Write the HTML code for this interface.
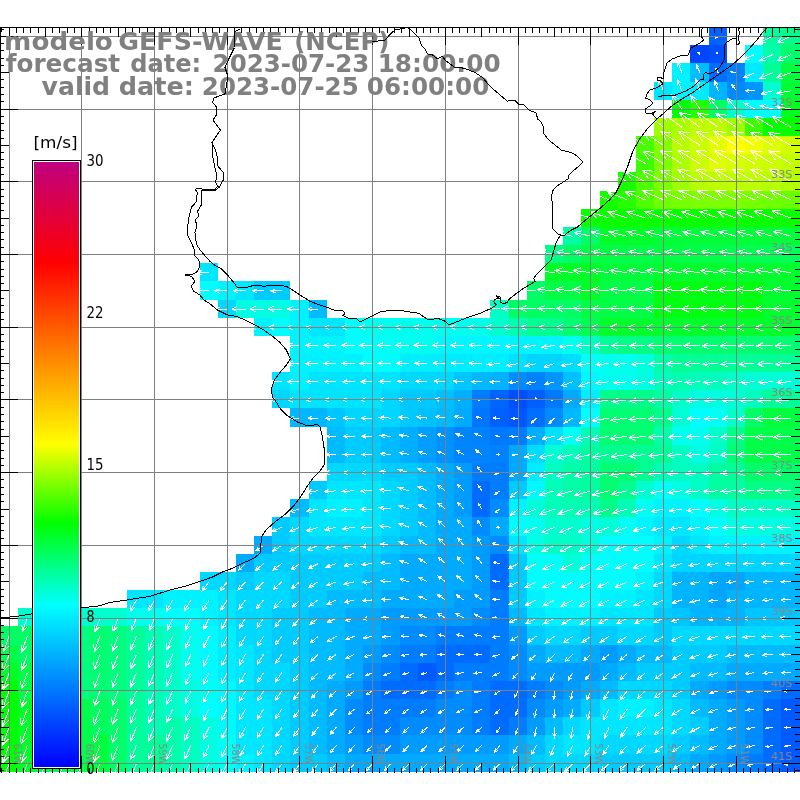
<!DOCTYPE html>
<html><head><meta charset="utf-8"><title>modelo GEFS-WAVE (NCEP)</title>
<style>html,body{margin:0;padding:0;background:#fff}svg{display:block}text{font-family:"DejaVu Sans","Liberation Sans",sans-serif}</style></head><body>
<svg width="800" height="800" viewBox="0 0 800 800">
<defs><linearGradient id="cb" x1="0" y1="1" x2="0" y2="0"><stop offset="0.0000" stop-color="#0000ff"/><stop offset="0.2680" stop-color="#00ffff"/><stop offset="0.4033" stop-color="#00ff00"/><stop offset="0.5333" stop-color="#ffff00"/><stop offset="0.8333" stop-color="#ff0000"/><stop offset="1.0000" stop-color="#c00080"/></linearGradient></defs>
<rect width="800" height="800" fill="#fff"/>
<g shape-rendering="crispEdges">
<rect x="709" y="27" width="18" height="18" fill="#0062ff"/><rect x="763" y="27" width="18" height="18" fill="#00ffa3"/><rect x="781" y="27" width="19" height="18" fill="#00ff8a"/>
<rect x="690" y="45" width="19" height="18" fill="#0046ff"/><rect x="709" y="45" width="18" height="18" fill="#004fff"/><rect x="745" y="45" width="18" height="18" fill="#00feff"/><rect x="763" y="45" width="18" height="18" fill="#00ffaa"/><rect x="781" y="45" width="19" height="18" fill="#00ff6b"/>
<rect x="672" y="63" width="18" height="19" fill="#00f2ff"/><rect x="690" y="63" width="19" height="19" fill="#00beff"/><rect x="709" y="63" width="18" height="19" fill="#006fff"/><rect x="727" y="63" width="18" height="19" fill="#0082ff"/><rect x="745" y="63" width="18" height="19" fill="#00ebff"/><rect x="763" y="63" width="18" height="19" fill="#00ff97"/><rect x="781" y="63" width="19" height="19" fill="#00ff3f"/>
<rect x="654" y="82" width="18" height="18" fill="#00e6ff"/><rect x="672" y="82" width="18" height="18" fill="#00f2ff"/><rect x="690" y="82" width="19" height="18" fill="#00ebff"/><rect x="709" y="82" width="18" height="18" fill="#00b5ff"/><rect x="727" y="82" width="18" height="18" fill="#008cff"/><rect x="745" y="82" width="18" height="18" fill="#0095ff"/><rect x="763" y="82" width="18" height="18" fill="#00ffcf"/><rect x="781" y="82" width="19" height="18" fill="#00ff32"/>
<rect x="672" y="100" width="18" height="18" fill="#00ff06"/><rect x="690" y="100" width="19" height="18" fill="#21ff00"/><rect x="709" y="100" width="18" height="18" fill="#00ff64"/><rect x="727" y="100" width="18" height="18" fill="#00ffc9"/><rect x="745" y="100" width="36" height="18" fill="#00feff"/><rect x="781" y="100" width="19" height="18" fill="#00ff1f"/>
<rect x="654" y="118" width="18" height="18" fill="#9dff00"/><rect x="672" y="118" width="18" height="18" fill="#aaff00"/><rect x="690" y="118" width="37" height="18" fill="#beff00"/><rect x="727" y="118" width="18" height="18" fill="#9dff00"/><rect x="745" y="118" width="18" height="18" fill="#3bff00"/><rect x="763" y="118" width="37" height="18" fill="#07ff00"/>
<rect x="636" y="136" width="18" height="18" fill="#48ff00"/><rect x="654" y="136" width="18" height="18" fill="#83ff00"/><rect x="672" y="136" width="18" height="18" fill="#b7ff00"/><rect x="690" y="136" width="19" height="18" fill="#cbff00"/><rect x="709" y="136" width="18" height="18" fill="#e5ff00"/><rect x="727" y="136" width="18" height="18" fill="#ffff00"/><rect x="745" y="136" width="18" height="18" fill="#f2ff00"/><rect x="763" y="136" width="18" height="18" fill="#deff00"/><rect x="781" y="136" width="19" height="18" fill="#d1ff00"/>
<rect x="636" y="154" width="18" height="18" fill="#3bff00"/><rect x="654" y="154" width="18" height="18" fill="#7cff00"/><rect x="672" y="154" width="18" height="18" fill="#aaff00"/><rect x="690" y="154" width="19" height="18" fill="#cbff00"/><rect x="709" y="154" width="18" height="18" fill="#deff00"/><rect x="727" y="154" width="18" height="18" fill="#d8ff00"/><rect x="745" y="154" width="18" height="18" fill="#d1ff00"/><rect x="763" y="154" width="18" height="18" fill="#cbff00"/><rect x="781" y="154" width="19" height="18" fill="#c4ff00"/>
<rect x="618" y="172" width="18" height="19" fill="#1aff00"/><rect x="636" y="172" width="18" height="19" fill="#4eff00"/><rect x="654" y="172" width="18" height="19" fill="#7cff00"/><rect x="672" y="172" width="18" height="19" fill="#9dff00"/><rect x="690" y="172" width="19" height="19" fill="#b7ff00"/><rect x="709" y="172" width="54" height="19" fill="#beff00"/><rect x="763" y="172" width="18" height="19" fill="#b7ff00"/><rect x="781" y="172" width="19" height="19" fill="#b1ff00"/>
<rect x="600" y="191" width="18" height="18" fill="#14ff00"/><rect x="618" y="191" width="18" height="18" fill="#27ff00"/><rect x="636" y="191" width="18" height="18" fill="#4eff00"/><rect x="654" y="191" width="18" height="18" fill="#6fff00"/><rect x="672" y="191" width="18" height="18" fill="#76ff00"/><rect x="690" y="191" width="55" height="18" fill="#7cff00"/><rect x="745" y="191" width="18" height="18" fill="#76ff00"/><rect x="763" y="191" width="18" height="18" fill="#6fff00"/><rect x="781" y="191" width="19" height="18" fill="#69ff00"/>
<rect x="581" y="209" width="219" height="18" fill="#0aff00"/>
<rect x="563" y="227" width="18" height="18" fill="#00ffa3"/><rect x="581" y="227" width="19" height="18" fill="#00ff64"/><rect x="600" y="227" width="54" height="18" fill="#00ff26"/><rect x="654" y="227" width="146" height="18" fill="#00ff39"/>
<rect x="545" y="245" width="18" height="18" fill="#00ff84"/><rect x="563" y="245" width="18" height="18" fill="#00ff64"/><rect x="581" y="245" width="37" height="18" fill="#00ff45"/><rect x="618" y="245" width="18" height="18" fill="#00ff48"/><rect x="636" y="245" width="18" height="18" fill="#00ff4b"/><rect x="654" y="245" width="18" height="18" fill="#00ff42"/><rect x="672" y="245" width="18" height="18" fill="#00ff45"/><rect x="690" y="245" width="19" height="18" fill="#00ff48"/><rect x="709" y="245" width="18" height="18" fill="#00ff4b"/><rect x="727" y="245" width="18" height="18" fill="#00ff4f"/><rect x="745" y="245" width="18" height="18" fill="#00ff52"/><rect x="763" y="245" width="18" height="18" fill="#00ff55"/><rect x="781" y="245" width="19" height="18" fill="#00ff58"/>
<rect x="200" y="263" width="18" height="18" fill="#00e6ff"/><rect x="545" y="263" width="55" height="18" fill="#00ff26"/><rect x="600" y="263" width="54" height="18" fill="#00ff39"/><rect x="654" y="263" width="146" height="18" fill="#00ff2c"/>
<rect x="200" y="281" width="18" height="19" fill="#00feff"/><rect x="218" y="281" width="18" height="19" fill="#00f2ff"/><rect x="236" y="281" width="18" height="19" fill="#00e6ff"/><rect x="254" y="281" width="36" height="19" fill="#00cbff"/><rect x="527" y="281" width="18" height="19" fill="#00ff64"/><rect x="545" y="281" width="36" height="19" fill="#00ff45"/><rect x="581" y="281" width="19" height="19" fill="#00ff26"/><rect x="600" y="281" width="54" height="19" fill="#00ff45"/><rect x="654" y="281" width="109" height="19" fill="#00ff10"/><rect x="763" y="281" width="37" height="19" fill="#00ff2f"/>
<rect x="218" y="300" width="18" height="18" fill="#00d8ff"/><rect x="236" y="300" width="54" height="18" fill="#00ffe2"/><rect x="290" y="300" width="19" height="18" fill="#00f2ff"/><rect x="309" y="300" width="18" height="18" fill="#00bbff"/><rect x="490" y="300" width="19" height="18" fill="#00ffc3"/><rect x="509" y="300" width="72" height="18" fill="#00ff64"/><rect x="581" y="300" width="73" height="18" fill="#00ff45"/><rect x="654" y="300" width="109" height="18" fill="#00ff10"/><rect x="763" y="300" width="37" height="18" fill="#00ff2f"/>
<rect x="254" y="318" width="18" height="18" fill="#00f2ff"/><rect x="272" y="318" width="18" height="18" fill="#00feff"/><rect x="290" y="318" width="19" height="18" fill="#00f2ff"/><rect x="309" y="318" width="36" height="18" fill="#00e6ff"/><rect x="345" y="318" width="18" height="18" fill="#00fffb"/><rect x="363" y="318" width="109" height="18" fill="#00ffef"/><rect x="472" y="318" width="18" height="18" fill="#00ffe8"/><rect x="490" y="318" width="19" height="18" fill="#00ffcf"/><rect x="509" y="318" width="18" height="18" fill="#00ffb0"/><rect x="527" y="318" width="36" height="18" fill="#00ff90"/><rect x="563" y="318" width="18" height="18" fill="#00ff71"/><rect x="581" y="318" width="19" height="18" fill="#00ff52"/><rect x="600" y="318" width="200" height="18" fill="#00ff2c"/>
<rect x="290" y="336" width="55" height="18" fill="#00f4ff"/><rect x="345" y="336" width="18" height="18" fill="#00feff"/><rect x="363" y="336" width="18" height="18" fill="#00fffb"/><rect x="381" y="336" width="19" height="18" fill="#00fff5"/><rect x="400" y="336" width="36" height="18" fill="#00ffef"/><rect x="436" y="336" width="73" height="18" fill="#00f7ff"/><rect x="509" y="336" width="54" height="18" fill="#00f4ff"/><rect x="563" y="336" width="18" height="18" fill="#00ffef"/><rect x="581" y="336" width="19" height="18" fill="#00ffc3"/><rect x="600" y="336" width="18" height="18" fill="#00ff97"/><rect x="618" y="336" width="36" height="18" fill="#00ff84"/><rect x="654" y="336" width="146" height="18" fill="#00ff71"/>
<rect x="290" y="354" width="73" height="18" fill="#00f2ff"/><rect x="363" y="354" width="37" height="18" fill="#00feff"/><rect x="400" y="354" width="36" height="18" fill="#00efff"/><rect x="436" y="354" width="36" height="18" fill="#00ecff"/><rect x="472" y="354" width="37" height="18" fill="#00eeff"/><rect x="509" y="354" width="18" height="18" fill="#00e1ff"/><rect x="527" y="354" width="36" height="18" fill="#00d5ff"/><rect x="563" y="354" width="18" height="18" fill="#00deff"/><rect x="581" y="354" width="19" height="18" fill="#00fff5"/><rect x="600" y="354" width="36" height="18" fill="#00ffef"/><rect x="636" y="354" width="18" height="18" fill="#00ffdc"/><rect x="654" y="354" width="18" height="18" fill="#00ffaa"/><rect x="672" y="354" width="128" height="18" fill="#00ff97"/>
<rect x="272" y="372" width="18" height="18" fill="#00e4ff"/><rect x="290" y="372" width="19" height="18" fill="#00f1ff"/><rect x="309" y="372" width="91" height="18" fill="#00e4ff"/><rect x="400" y="372" width="54" height="18" fill="#00d9ff"/><rect x="454" y="372" width="18" height="18" fill="#00c6ff"/><rect x="472" y="372" width="18" height="18" fill="#00b8ff"/><rect x="490" y="372" width="19" height="18" fill="#00b2ff"/><rect x="509" y="372" width="18" height="18" fill="#008cff"/><rect x="527" y="372" width="18" height="18" fill="#0082ff"/><rect x="545" y="372" width="18" height="18" fill="#0095ff"/><rect x="563" y="372" width="18" height="18" fill="#00c1ff"/><rect x="581" y="372" width="19" height="18" fill="#00f7ff"/><rect x="600" y="372" width="36" height="18" fill="#00ffef"/><rect x="636" y="372" width="18" height="18" fill="#00ffe2"/><rect x="654" y="372" width="18" height="18" fill="#00ffbc"/><rect x="672" y="372" width="18" height="18" fill="#00ffb0"/><rect x="690" y="372" width="37" height="18" fill="#00ffbc"/><rect x="727" y="372" width="18" height="18" fill="#00ffc9"/><rect x="745" y="372" width="55" height="18" fill="#00ffd6"/>
<rect x="272" y="390" width="18" height="18" fill="#00d6ff"/><rect x="290" y="390" width="91" height="18" fill="#00e4ff"/><rect x="381" y="390" width="19" height="18" fill="#00d6ff"/><rect x="400" y="390" width="36" height="18" fill="#00c9ff"/><rect x="436" y="390" width="18" height="18" fill="#00c0ff"/><rect x="454" y="390" width="18" height="18" fill="#00b0ff"/><rect x="472" y="390" width="18" height="18" fill="#007cff"/><rect x="490" y="390" width="19" height="18" fill="#0065ff"/><rect x="509" y="390" width="18" height="18" fill="#004fff"/><rect x="527" y="390" width="18" height="18" fill="#005fff"/><rect x="545" y="390" width="18" height="18" fill="#0079ff"/><rect x="563" y="390" width="18" height="18" fill="#00abff"/><rect x="581" y="390" width="19" height="18" fill="#00eeff"/><rect x="600" y="390" width="54" height="18" fill="#00ff8a"/><rect x="654" y="390" width="18" height="18" fill="#00ffa3"/><rect x="672" y="390" width="18" height="18" fill="#00ffc9"/><rect x="690" y="390" width="37" height="18" fill="#00ffe2"/><rect x="727" y="390" width="18" height="18" fill="#00ffd6"/><rect x="745" y="390" width="18" height="18" fill="#00ffbc"/><rect x="763" y="390" width="37" height="18" fill="#00ff97"/>
<rect x="290" y="408" width="37" height="19" fill="#00b6ff"/><rect x="327" y="408" width="18" height="19" fill="#00c6ff"/><rect x="345" y="408" width="55" height="19" fill="#00d6ff"/><rect x="400" y="408" width="18" height="19" fill="#00c9ff"/><rect x="418" y="408" width="18" height="19" fill="#00c0ff"/><rect x="436" y="408" width="18" height="19" fill="#00baff"/><rect x="454" y="408" width="18" height="19" fill="#00aaff"/><rect x="472" y="408" width="18" height="19" fill="#0075ff"/><rect x="490" y="408" width="19" height="19" fill="#005fff"/><rect x="509" y="408" width="18" height="19" fill="#0056ff"/><rect x="527" y="408" width="18" height="19" fill="#006fff"/><rect x="545" y="408" width="18" height="19" fill="#008cff"/><rect x="563" y="408" width="18" height="19" fill="#00b8ff"/><rect x="581" y="408" width="19" height="19" fill="#00feff"/><rect x="600" y="408" width="54" height="19" fill="#00ff71"/><rect x="654" y="408" width="18" height="19" fill="#00ff8a"/><rect x="672" y="408" width="18" height="19" fill="#00ffd6"/><rect x="690" y="408" width="19" height="19" fill="#00feff"/><rect x="709" y="408" width="18" height="19" fill="#00fff5"/><rect x="727" y="408" width="18" height="19" fill="#00ffc9"/><rect x="745" y="408" width="18" height="19" fill="#00ff64"/><rect x="763" y="408" width="37" height="19" fill="#00ff3f"/>
<rect x="327" y="427" width="18" height="18" fill="#00bbff"/><rect x="345" y="427" width="36" height="18" fill="#00cbff"/><rect x="381" y="427" width="19" height="18" fill="#00bbff"/><rect x="400" y="427" width="18" height="18" fill="#00aeff"/><rect x="418" y="427" width="18" height="18" fill="#009fff"/><rect x="436" y="427" width="18" height="18" fill="#0092ff"/><rect x="454" y="427" width="18" height="18" fill="#0085ff"/><rect x="472" y="427" width="18" height="18" fill="#0082ff"/><rect x="490" y="427" width="19" height="18" fill="#0079ff"/><rect x="509" y="427" width="18" height="18" fill="#007cff"/><rect x="527" y="427" width="18" height="18" fill="#00aeff"/><rect x="545" y="427" width="18" height="18" fill="#00e1ff"/><rect x="563" y="427" width="18" height="18" fill="#00fff5"/><rect x="581" y="427" width="19" height="18" fill="#00ffb6"/><rect x="600" y="427" width="54" height="18" fill="#00ff71"/><rect x="654" y="427" width="18" height="18" fill="#00ffaa"/><rect x="672" y="427" width="37" height="18" fill="#00ffef"/><rect x="709" y="427" width="18" height="18" fill="#00ffc9"/><rect x="727" y="427" width="18" height="18" fill="#00ff84"/><rect x="745" y="427" width="55" height="18" fill="#00ff48"/>
<rect x="327" y="445" width="18" height="18" fill="#00bbff"/><rect x="345" y="445" width="36" height="18" fill="#00cbff"/><rect x="381" y="445" width="19" height="18" fill="#00bbff"/><rect x="400" y="445" width="18" height="18" fill="#00aeff"/><rect x="418" y="445" width="18" height="18" fill="#009fff"/><rect x="436" y="445" width="18" height="18" fill="#0092ff"/><rect x="454" y="445" width="36" height="18" fill="#0085ff"/><rect x="490" y="445" width="19" height="18" fill="#0082ff"/><rect x="509" y="445" width="18" height="18" fill="#00a8ff"/><rect x="527" y="445" width="18" height="18" fill="#00dcff"/><rect x="545" y="445" width="18" height="18" fill="#00ffd2"/><rect x="563" y="445" width="18" height="18" fill="#00ffb9"/><rect x="581" y="445" width="19" height="18" fill="#00ffa0"/><rect x="600" y="445" width="54" height="18" fill="#00ff90"/><rect x="654" y="445" width="18" height="18" fill="#00ff97"/><rect x="672" y="445" width="18" height="18" fill="#00ffc3"/><rect x="690" y="445" width="19" height="18" fill="#00ffe2"/><rect x="709" y="445" width="18" height="18" fill="#00ffc3"/><rect x="727" y="445" width="18" height="18" fill="#00ff77"/><rect x="745" y="445" width="55" height="18" fill="#00ff48"/>
<rect x="327" y="463" width="54" height="18" fill="#00d8ff"/><rect x="381" y="463" width="37" height="18" fill="#00cbff"/><rect x="418" y="463" width="18" height="18" fill="#00bbff"/><rect x="436" y="463" width="18" height="18" fill="#00abff"/><rect x="454" y="463" width="18" height="18" fill="#009bff"/><rect x="472" y="463" width="37" height="18" fill="#007cff"/><rect x="509" y="463" width="18" height="18" fill="#00abff"/><rect x="527" y="463" width="18" height="18" fill="#00ecff"/><rect x="545" y="463" width="18" height="18" fill="#00ffc0"/><rect x="563" y="463" width="18" height="18" fill="#00ffa6"/><rect x="581" y="463" width="19" height="18" fill="#00ffa0"/><rect x="600" y="463" width="36" height="18" fill="#00ff71"/><rect x="636" y="463" width="18" height="18" fill="#00ff90"/><rect x="654" y="463" width="18" height="18" fill="#00ffb6"/><rect x="672" y="463" width="37" height="18" fill="#00ffc3"/><rect x="709" y="463" width="18" height="18" fill="#00ffa3"/><rect x="727" y="463" width="18" height="18" fill="#00ff97"/><rect x="745" y="463" width="55" height="18" fill="#00ff68"/>
<rect x="309" y="481" width="18" height="18" fill="#00cbff"/><rect x="327" y="481" width="54" height="18" fill="#00e6ff"/><rect x="381" y="481" width="19" height="18" fill="#00d8ff"/><rect x="400" y="481" width="18" height="18" fill="#00cbff"/><rect x="418" y="481" width="18" height="18" fill="#00bbff"/><rect x="436" y="481" width="18" height="18" fill="#00abff"/><rect x="454" y="481" width="18" height="18" fill="#009bff"/><rect x="472" y="481" width="18" height="18" fill="#006cff"/><rect x="490" y="481" width="19" height="18" fill="#007cff"/><rect x="509" y="481" width="18" height="18" fill="#00cbff"/><rect x="527" y="481" width="18" height="18" fill="#00f9ff"/><rect x="545" y="481" width="18" height="18" fill="#00ffb9"/><rect x="563" y="481" width="18" height="18" fill="#00ffa6"/><rect x="581" y="481" width="19" height="18" fill="#00ffa0"/><rect x="600" y="481" width="18" height="18" fill="#00ff71"/><rect x="618" y="481" width="18" height="18" fill="#00ff90"/><rect x="636" y="481" width="18" height="18" fill="#00ffcf"/><rect x="654" y="481" width="18" height="18" fill="#00fff5"/><rect x="672" y="481" width="18" height="18" fill="#00ffe2"/><rect x="690" y="481" width="19" height="18" fill="#00ffc3"/><rect x="709" y="481" width="36" height="18" fill="#00ffa3"/><rect x="745" y="481" width="55" height="18" fill="#00ff84"/>
<rect x="290" y="499" width="19" height="18" fill="#00bbff"/><rect x="309" y="499" width="18" height="18" fill="#00e6ff"/><rect x="327" y="499" width="36" height="18" fill="#00f2ff"/><rect x="363" y="499" width="18" height="18" fill="#00e6ff"/><rect x="381" y="499" width="19" height="18" fill="#00d8ff"/><rect x="400" y="499" width="18" height="18" fill="#00cbff"/><rect x="418" y="499" width="18" height="18" fill="#00bbff"/><rect x="436" y="499" width="18" height="18" fill="#00abff"/><rect x="454" y="499" width="18" height="18" fill="#009bff"/><rect x="472" y="499" width="18" height="18" fill="#006cff"/><rect x="490" y="499" width="19" height="18" fill="#008cff"/><rect x="509" y="499" width="18" height="18" fill="#00f2ff"/><rect x="527" y="499" width="18" height="18" fill="#00ffd9"/><rect x="545" y="499" width="18" height="18" fill="#00ffb9"/><rect x="563" y="499" width="37" height="18" fill="#00ffb3"/><rect x="600" y="499" width="18" height="18" fill="#00ff8a"/><rect x="618" y="499" width="18" height="18" fill="#00ffb6"/><rect x="636" y="499" width="18" height="18" fill="#00fff5"/><rect x="654" y="499" width="18" height="18" fill="#00f4ff"/><rect x="672" y="499" width="18" height="18" fill="#00f2ff"/><rect x="690" y="499" width="19" height="18" fill="#00feff"/><rect x="709" y="499" width="18" height="18" fill="#00ffe2"/><rect x="727" y="499" width="73" height="18" fill="#00ffc3"/>
<rect x="272" y="517" width="18" height="19" fill="#00cbff"/><rect x="290" y="517" width="19" height="19" fill="#00d8ff"/><rect x="309" y="517" width="72" height="19" fill="#00e6ff"/><rect x="381" y="517" width="19" height="19" fill="#00d8ff"/><rect x="400" y="517" width="18" height="19" fill="#00cbff"/><rect x="418" y="517" width="18" height="19" fill="#00bbff"/><rect x="436" y="517" width="36" height="19" fill="#00abff"/><rect x="472" y="517" width="18" height="19" fill="#008cff"/><rect x="490" y="517" width="19" height="19" fill="#00abff"/><rect x="509" y="517" width="18" height="19" fill="#00feff"/><rect x="527" y="517" width="18" height="19" fill="#00ffef"/><rect x="545" y="517" width="36" height="19" fill="#00ffcf"/><rect x="581" y="517" width="19" height="19" fill="#00ffe2"/><rect x="600" y="517" width="18" height="19" fill="#00ffd6"/><rect x="618" y="517" width="18" height="19" fill="#00fff5"/><rect x="636" y="517" width="18" height="19" fill="#00f4ff"/><rect x="654" y="517" width="18" height="19" fill="#00e8ff"/><rect x="672" y="517" width="18" height="19" fill="#00e6ff"/><rect x="690" y="517" width="19" height="19" fill="#00f2ff"/><rect x="709" y="517" width="18" height="19" fill="#00feff"/><rect x="727" y="517" width="73" height="19" fill="#00ffe2"/>
<rect x="254" y="536" width="18" height="18" fill="#00abff"/><rect x="272" y="536" width="18" height="18" fill="#00cbff"/><rect x="290" y="536" width="91" height="18" fill="#00d8ff"/><rect x="381" y="536" width="19" height="18" fill="#00cbff"/><rect x="400" y="536" width="36" height="18" fill="#00bbff"/><rect x="436" y="536" width="36" height="18" fill="#00abff"/><rect x="472" y="536" width="18" height="18" fill="#009bff"/><rect x="490" y="536" width="19" height="18" fill="#008cff"/><rect x="509" y="536" width="18" height="18" fill="#00e6ff"/><rect x="527" y="536" width="18" height="18" fill="#00ffe5"/><rect x="545" y="536" width="36" height="18" fill="#00ffc6"/><rect x="581" y="536" width="19" height="18" fill="#00ffd9"/><rect x="600" y="536" width="54" height="18" fill="#00feff"/><rect x="654" y="536" width="18" height="18" fill="#00f2ff"/><rect x="672" y="536" width="18" height="18" fill="#00d8ff"/><rect x="690" y="536" width="19" height="18" fill="#00e6ff"/><rect x="709" y="536" width="91" height="18" fill="#00f2ff"/>
<rect x="236" y="554" width="18" height="18" fill="#00abff"/><rect x="254" y="554" width="127" height="18" fill="#00cbff"/><rect x="381" y="554" width="19" height="18" fill="#00bbff"/><rect x="400" y="554" width="72" height="18" fill="#00abff"/><rect x="472" y="554" width="18" height="18" fill="#009bff"/><rect x="490" y="554" width="19" height="18" fill="#006cff"/><rect x="509" y="554" width="18" height="18" fill="#00cbff"/><rect x="527" y="554" width="36" height="18" fill="#00fff8"/><rect x="563" y="554" width="18" height="18" fill="#00ffd9"/><rect x="581" y="554" width="19" height="18" fill="#00fff8"/><rect x="600" y="554" width="54" height="18" fill="#00feff"/><rect x="654" y="554" width="18" height="18" fill="#00e6ff"/><rect x="672" y="554" width="128" height="18" fill="#00d5ff"/>
<rect x="200" y="572" width="36" height="18" fill="#00d8ff"/><rect x="236" y="572" width="18" height="18" fill="#00cbff"/><rect x="254" y="572" width="36" height="18" fill="#00d8ff"/><rect x="290" y="572" width="73" height="18" fill="#00cbff"/><rect x="363" y="572" width="37" height="18" fill="#00bbff"/><rect x="400" y="572" width="72" height="18" fill="#00abff"/><rect x="472" y="572" width="18" height="18" fill="#009bff"/><rect x="490" y="572" width="19" height="18" fill="#006cff"/><rect x="509" y="572" width="18" height="18" fill="#00cbff"/><rect x="527" y="572" width="109" height="18" fill="#00feff"/><rect x="636" y="572" width="18" height="18" fill="#00f2ff"/><rect x="654" y="572" width="18" height="18" fill="#00d8ff"/><rect x="672" y="572" width="37" height="18" fill="#00b5ff"/><rect x="709" y="572" width="36" height="18" fill="#00a5ff"/><rect x="745" y="572" width="55" height="18" fill="#00b5ff"/>
<rect x="127" y="590" width="36" height="18" fill="#00e6ff"/><rect x="163" y="590" width="55" height="18" fill="#00f2ff"/><rect x="218" y="590" width="18" height="18" fill="#00e6ff"/><rect x="236" y="590" width="54" height="18" fill="#00d8ff"/><rect x="290" y="590" width="37" height="18" fill="#00cbff"/><rect x="327" y="590" width="54" height="18" fill="#00bbff"/><rect x="381" y="590" width="73" height="18" fill="#00abff"/><rect x="454" y="590" width="36" height="18" fill="#009bff"/><rect x="490" y="590" width="19" height="18" fill="#007cff"/><rect x="509" y="590" width="18" height="18" fill="#00cbff"/><rect x="527" y="590" width="18" height="18" fill="#00f2ff"/><rect x="545" y="590" width="55" height="18" fill="#00feff"/><rect x="600" y="590" width="36" height="18" fill="#00f2ff"/><rect x="636" y="590" width="18" height="18" fill="#00e6ff"/><rect x="654" y="590" width="18" height="18" fill="#00d8ff"/><rect x="672" y="590" width="37" height="18" fill="#00b5ff"/><rect x="709" y="590" width="18" height="18" fill="#00a5ff"/><rect x="727" y="590" width="73" height="18" fill="#00b5ff"/>
<rect x="18" y="608" width="109" height="18" fill="#00ffcf"/><rect x="127" y="608" width="36" height="18" fill="#00ffef"/><rect x="163" y="608" width="37" height="18" fill="#00feff"/><rect x="200" y="608" width="18" height="18" fill="#00f2ff"/><rect x="218" y="608" width="18" height="18" fill="#00e6ff"/><rect x="236" y="608" width="36" height="18" fill="#00d8ff"/><rect x="272" y="608" width="37" height="18" fill="#00cbff"/><rect x="309" y="608" width="36" height="18" fill="#00bbff"/><rect x="345" y="608" width="36" height="18" fill="#00abff"/><rect x="381" y="608" width="91" height="18" fill="#009bff"/><rect x="472" y="608" width="18" height="18" fill="#008cff"/><rect x="490" y="608" width="19" height="18" fill="#007cff"/><rect x="509" y="608" width="18" height="18" fill="#00bbff"/><rect x="527" y="608" width="18" height="18" fill="#00e6ff"/><rect x="545" y="608" width="55" height="18" fill="#00f2ff"/><rect x="600" y="608" width="54" height="18" fill="#00e6ff"/><rect x="654" y="608" width="18" height="18" fill="#00cbff"/><rect x="672" y="608" width="18" height="18" fill="#00c5ff"/><rect x="690" y="608" width="55" height="18" fill="#00b5ff"/><rect x="745" y="608" width="55" height="18" fill="#00c5ff"/>
<rect x="0" y="626" width="36" height="19" fill="#00ff64"/><rect x="36" y="626" width="54" height="19" fill="#00ff7e"/><rect x="90" y="626" width="19" height="19" fill="#00ff71"/><rect x="109" y="626" width="18" height="19" fill="#00ff7e"/><rect x="127" y="626" width="18" height="19" fill="#00ff9a"/><rect x="145" y="626" width="18" height="19" fill="#00ffb6"/><rect x="163" y="626" width="18" height="19" fill="#00ffc9"/><rect x="181" y="626" width="19" height="19" fill="#00ffef"/><rect x="200" y="626" width="18" height="19" fill="#00faff"/><rect x="218" y="626" width="18" height="19" fill="#00ecff"/><rect x="236" y="626" width="36" height="19" fill="#00d8ff"/><rect x="272" y="626" width="37" height="19" fill="#00cbff"/><rect x="309" y="626" width="36" height="19" fill="#00bbff"/><rect x="345" y="626" width="36" height="19" fill="#00abff"/><rect x="381" y="626" width="19" height="19" fill="#009bff"/><rect x="400" y="626" width="36" height="19" fill="#008cff"/><rect x="436" y="626" width="73" height="19" fill="#007cff"/><rect x="509" y="626" width="18" height="19" fill="#009bff"/><rect x="527" y="626" width="18" height="19" fill="#00cbff"/><rect x="545" y="626" width="36" height="19" fill="#00d8ff"/><rect x="581" y="626" width="37" height="19" fill="#00cbff"/><rect x="618" y="626" width="36" height="19" fill="#00d8ff"/><rect x="654" y="626" width="18" height="19" fill="#00cbff"/><rect x="672" y="626" width="128" height="19" fill="#00d8ff"/>
<rect x="0" y="645" width="18" height="18" fill="#00ff45"/><rect x="18" y="645" width="18" height="18" fill="#00ff64"/><rect x="36" y="645" width="54" height="18" fill="#00ff7e"/><rect x="90" y="645" width="19" height="18" fill="#00ff71"/><rect x="109" y="645" width="18" height="18" fill="#00ff7e"/><rect x="127" y="645" width="18" height="18" fill="#00ff9a"/><rect x="145" y="645" width="18" height="18" fill="#00ffb6"/><rect x="163" y="645" width="18" height="18" fill="#00ffc9"/><rect x="181" y="645" width="19" height="18" fill="#00ffef"/><rect x="200" y="645" width="18" height="18" fill="#00faff"/><rect x="218" y="645" width="18" height="18" fill="#00ecff"/><rect x="236" y="645" width="18" height="18" fill="#00e6ff"/><rect x="254" y="645" width="18" height="18" fill="#00d8ff"/><rect x="272" y="645" width="37" height="18" fill="#00cbff"/><rect x="309" y="645" width="36" height="18" fill="#00bbff"/><rect x="345" y="645" width="18" height="18" fill="#00abff"/><rect x="363" y="645" width="18" height="18" fill="#009bff"/><rect x="381" y="645" width="19" height="18" fill="#008cff"/><rect x="400" y="645" width="36" height="18" fill="#007cff"/><rect x="436" y="645" width="54" height="18" fill="#006cff"/><rect x="490" y="645" width="19" height="18" fill="#007cff"/><rect x="509" y="645" width="18" height="18" fill="#008cff"/><rect x="527" y="645" width="18" height="18" fill="#00abff"/><rect x="545" y="645" width="36" height="18" fill="#00bbff"/><rect x="581" y="645" width="19" height="18" fill="#00abff"/><rect x="600" y="645" width="18" height="18" fill="#009bff"/><rect x="618" y="645" width="18" height="18" fill="#00abff"/><rect x="636" y="645" width="36" height="18" fill="#00bbff"/><rect x="672" y="645" width="55" height="18" fill="#00cbff"/><rect x="727" y="645" width="73" height="18" fill="#00bbff"/>
<rect x="0" y="663" width="18" height="18" fill="#00ff26"/><rect x="18" y="663" width="18" height="18" fill="#00ff45"/><rect x="36" y="663" width="54" height="18" fill="#00ff7e"/><rect x="90" y="663" width="19" height="18" fill="#00ff71"/><rect x="109" y="663" width="18" height="18" fill="#00ff7e"/><rect x="127" y="663" width="18" height="18" fill="#00ff9a"/><rect x="145" y="663" width="18" height="18" fill="#00ffb6"/><rect x="163" y="663" width="18" height="18" fill="#00ffc9"/><rect x="181" y="663" width="19" height="18" fill="#00ffef"/><rect x="200" y="663" width="18" height="18" fill="#00faff"/><rect x="218" y="663" width="18" height="18" fill="#00ecff"/><rect x="236" y="663" width="18" height="18" fill="#00e6ff"/><rect x="254" y="663" width="36" height="18" fill="#00d8ff"/><rect x="290" y="663" width="19" height="18" fill="#00cbff"/><rect x="309" y="663" width="36" height="18" fill="#00bbff"/><rect x="345" y="663" width="18" height="18" fill="#00abff"/><rect x="363" y="663" width="18" height="18" fill="#008cff"/><rect x="381" y="663" width="19" height="18" fill="#007cff"/><rect x="400" y="663" width="18" height="18" fill="#006cff"/><rect x="418" y="663" width="18" height="18" fill="#005aff"/><rect x="436" y="663" width="18" height="18" fill="#006cff"/><rect x="454" y="663" width="55" height="18" fill="#007cff"/><rect x="509" y="663" width="18" height="18" fill="#008cff"/><rect x="527" y="663" width="73" height="18" fill="#009bff"/><rect x="600" y="663" width="18" height="18" fill="#00abff"/><rect x="618" y="663" width="18" height="18" fill="#00bbff"/><rect x="636" y="663" width="54" height="18" fill="#00cbff"/><rect x="690" y="663" width="37" height="18" fill="#00bbff"/><rect x="727" y="663" width="73" height="18" fill="#00abff"/>
<rect x="0" y="681" width="18" height="18" fill="#00ff06"/><rect x="18" y="681" width="18" height="18" fill="#00ff45"/><rect x="36" y="681" width="54" height="18" fill="#00ff7e"/><rect x="90" y="681" width="19" height="18" fill="#00ff71"/><rect x="109" y="681" width="18" height="18" fill="#00ff7e"/><rect x="127" y="681" width="18" height="18" fill="#00ff9a"/><rect x="145" y="681" width="18" height="18" fill="#00ffb6"/><rect x="163" y="681" width="18" height="18" fill="#00ffc9"/><rect x="181" y="681" width="19" height="18" fill="#00ffe2"/><rect x="200" y="681" width="18" height="18" fill="#00fff2"/><rect x="218" y="681" width="18" height="18" fill="#00f8ff"/><rect x="236" y="681" width="18" height="18" fill="#00e6ff"/><rect x="254" y="681" width="36" height="18" fill="#00d8ff"/><rect x="290" y="681" width="19" height="18" fill="#00cbff"/><rect x="309" y="681" width="18" height="18" fill="#00bbff"/><rect x="327" y="681" width="18" height="18" fill="#00abff"/><rect x="345" y="681" width="18" height="18" fill="#009bff"/><rect x="363" y="681" width="18" height="18" fill="#007cff"/><rect x="381" y="681" width="55" height="18" fill="#006cff"/><rect x="436" y="681" width="18" height="18" fill="#007cff"/><rect x="454" y="681" width="18" height="18" fill="#008cff"/><rect x="472" y="681" width="18" height="18" fill="#007cff"/><rect x="490" y="681" width="37" height="18" fill="#006cff"/><rect x="527" y="681" width="18" height="18" fill="#007cff"/><rect x="545" y="681" width="18" height="18" fill="#008cff"/><rect x="563" y="681" width="18" height="18" fill="#009bff"/><rect x="581" y="681" width="19" height="18" fill="#00abff"/><rect x="600" y="681" width="18" height="18" fill="#00bbff"/><rect x="618" y="681" width="54" height="18" fill="#00d8ff"/><rect x="672" y="681" width="18" height="18" fill="#00cbff"/><rect x="690" y="681" width="19" height="18" fill="#00abff"/><rect x="709" y="681" width="18" height="18" fill="#009bff"/><rect x="727" y="681" width="36" height="18" fill="#008cff"/><rect x="763" y="681" width="18" height="18" fill="#007cff"/><rect x="781" y="681" width="19" height="18" fill="#006cff"/>
<rect x="0" y="699" width="18" height="18" fill="#00ff06"/><rect x="18" y="699" width="18" height="18" fill="#00ff26"/><rect x="36" y="699" width="54" height="18" fill="#00ff4b"/><rect x="90" y="699" width="19" height="18" fill="#00ff5e"/><rect x="109" y="699" width="18" height="18" fill="#00ff6b"/><rect x="127" y="699" width="18" height="18" fill="#00ff9a"/><rect x="145" y="699" width="18" height="18" fill="#00ffb6"/><rect x="163" y="699" width="18" height="18" fill="#00ffc9"/><rect x="181" y="699" width="19" height="18" fill="#00ffe2"/><rect x="200" y="699" width="18" height="18" fill="#00feff"/><rect x="218" y="699" width="18" height="18" fill="#00f8ff"/><rect x="236" y="699" width="36" height="18" fill="#00e6ff"/><rect x="272" y="699" width="18" height="18" fill="#00d8ff"/><rect x="290" y="699" width="19" height="18" fill="#00cbff"/><rect x="309" y="699" width="18" height="18" fill="#00bbff"/><rect x="327" y="699" width="18" height="18" fill="#00abff"/><rect x="345" y="699" width="18" height="18" fill="#008cff"/><rect x="363" y="699" width="73" height="18" fill="#007cff"/><rect x="436" y="699" width="36" height="18" fill="#008cff"/><rect x="472" y="699" width="18" height="18" fill="#007cff"/><rect x="490" y="699" width="37" height="18" fill="#006cff"/><rect x="527" y="699" width="18" height="18" fill="#008cff"/><rect x="545" y="699" width="18" height="18" fill="#009bff"/><rect x="563" y="699" width="18" height="18" fill="#00abff"/><rect x="581" y="699" width="19" height="18" fill="#00cbff"/><rect x="600" y="699" width="18" height="18" fill="#00e6ff"/><rect x="618" y="699" width="36" height="18" fill="#00f2ff"/><rect x="654" y="699" width="18" height="18" fill="#00e6ff"/><rect x="672" y="699" width="18" height="18" fill="#00d8ff"/><rect x="690" y="699" width="19" height="18" fill="#00bbff"/><rect x="709" y="699" width="18" height="18" fill="#00abff"/><rect x="727" y="699" width="18" height="18" fill="#009bff"/><rect x="745" y="699" width="18" height="18" fill="#008cff"/><rect x="763" y="699" width="18" height="18" fill="#006cff"/><rect x="781" y="699" width="19" height="18" fill="#005aff"/>
<rect x="0" y="717" width="18" height="18" fill="#00ff06"/><rect x="18" y="717" width="18" height="18" fill="#00ff26"/><rect x="36" y="717" width="54" height="18" fill="#00ff4b"/><rect x="90" y="717" width="19" height="18" fill="#00ff5e"/><rect x="109" y="717" width="18" height="18" fill="#00ff6b"/><rect x="127" y="717" width="18" height="18" fill="#00ff9a"/><rect x="145" y="717" width="18" height="18" fill="#00ffb6"/><rect x="163" y="717" width="18" height="18" fill="#00ffaa"/><rect x="181" y="717" width="19" height="18" fill="#00ffc3"/><rect x="200" y="717" width="18" height="18" fill="#00ffe2"/><rect x="218" y="717" width="18" height="18" fill="#00f8ff"/><rect x="236" y="717" width="36" height="18" fill="#00e6ff"/><rect x="272" y="717" width="18" height="18" fill="#00d8ff"/><rect x="290" y="717" width="19" height="18" fill="#00cbff"/><rect x="309" y="717" width="18" height="18" fill="#00bbff"/><rect x="327" y="717" width="18" height="18" fill="#00abff"/><rect x="345" y="717" width="18" height="18" fill="#008cff"/><rect x="363" y="717" width="37" height="18" fill="#007cff"/><rect x="400" y="717" width="72" height="18" fill="#008cff"/><rect x="472" y="717" width="18" height="18" fill="#007cff"/><rect x="490" y="717" width="19" height="18" fill="#006cff"/><rect x="509" y="717" width="18" height="18" fill="#007cff"/><rect x="527" y="717" width="18" height="18" fill="#009bff"/><rect x="545" y="717" width="18" height="18" fill="#00bbff"/><rect x="563" y="717" width="18" height="18" fill="#00d8ff"/><rect x="581" y="717" width="91" height="18" fill="#00e6ff"/><rect x="672" y="717" width="18" height="18" fill="#00d8ff"/><rect x="690" y="717" width="19" height="18" fill="#00cbff"/><rect x="709" y="717" width="18" height="18" fill="#00abff"/><rect x="727" y="717" width="18" height="18" fill="#009bff"/><rect x="745" y="717" width="18" height="18" fill="#008cff"/><rect x="763" y="717" width="18" height="18" fill="#006cff"/><rect x="781" y="717" width="19" height="18" fill="#005aff"/>
<rect x="0" y="735" width="18" height="19" fill="#00ff06"/><rect x="18" y="735" width="18" height="19" fill="#00ff26"/><rect x="36" y="735" width="54" height="19" fill="#00ff4b"/><rect x="90" y="735" width="19" height="19" fill="#00ff3f"/><rect x="109" y="735" width="18" height="19" fill="#00ff6b"/><rect x="127" y="735" width="18" height="19" fill="#00ff9a"/><rect x="145" y="735" width="18" height="19" fill="#00ff97"/><rect x="163" y="735" width="18" height="19" fill="#00ffaa"/><rect x="181" y="735" width="19" height="19" fill="#00ffc3"/><rect x="200" y="735" width="18" height="19" fill="#00ffe2"/><rect x="218" y="735" width="18" height="19" fill="#00fff5"/><rect x="236" y="735" width="36" height="19" fill="#00e6ff"/><rect x="272" y="735" width="18" height="19" fill="#00d8ff"/><rect x="290" y="735" width="19" height="19" fill="#00cbff"/><rect x="309" y="735" width="18" height="19" fill="#00bbff"/><rect x="327" y="735" width="18" height="19" fill="#00abff"/><rect x="345" y="735" width="18" height="19" fill="#009bff"/><rect x="363" y="735" width="37" height="19" fill="#008cff"/><rect x="400" y="735" width="109" height="19" fill="#009bff"/><rect x="509" y="735" width="18" height="19" fill="#00abff"/><rect x="527" y="735" width="18" height="19" fill="#00bbff"/><rect x="545" y="735" width="18" height="19" fill="#00d8ff"/><rect x="563" y="735" width="37" height="19" fill="#00e6ff"/><rect x="600" y="735" width="72" height="19" fill="#00d8ff"/><rect x="672" y="735" width="18" height="19" fill="#00cbff"/><rect x="690" y="735" width="19" height="19" fill="#00bbff"/><rect x="709" y="735" width="18" height="19" fill="#00abff"/><rect x="727" y="735" width="18" height="19" fill="#009bff"/><rect x="745" y="735" width="18" height="19" fill="#008cff"/><rect x="763" y="735" width="18" height="19" fill="#006cff"/><rect x="781" y="735" width="19" height="19" fill="#005aff"/>
<rect x="0" y="754" width="18" height="18" fill="#00ff06"/><rect x="18" y="754" width="18" height="18" fill="#00ff26"/><rect x="36" y="754" width="54" height="18" fill="#00ff4b"/><rect x="90" y="754" width="19" height="18" fill="#00ff3f"/><rect x="109" y="754" width="18" height="18" fill="#00ff6b"/><rect x="127" y="754" width="18" height="18" fill="#00ff9a"/><rect x="145" y="754" width="18" height="18" fill="#00ff97"/><rect x="163" y="754" width="18" height="18" fill="#00ffaa"/><rect x="181" y="754" width="19" height="18" fill="#00ffc3"/><rect x="200" y="754" width="18" height="18" fill="#00ffe2"/><rect x="218" y="754" width="18" height="18" fill="#00fff5"/><rect x="236" y="754" width="18" height="18" fill="#00f2ff"/><rect x="254" y="754" width="18" height="18" fill="#00e6ff"/><rect x="272" y="754" width="18" height="18" fill="#00d8ff"/><rect x="290" y="754" width="37" height="18" fill="#00cbff"/><rect x="327" y="754" width="18" height="18" fill="#00bbff"/><rect x="345" y="754" width="164" height="18" fill="#00abff"/><rect x="509" y="754" width="18" height="18" fill="#00bbff"/><rect x="527" y="754" width="18" height="18" fill="#00cbff"/><rect x="545" y="754" width="55" height="18" fill="#00d8ff"/><rect x="600" y="754" width="72" height="18" fill="#00cbff"/><rect x="672" y="754" width="18" height="18" fill="#00bbff"/><rect x="690" y="754" width="19" height="18" fill="#00abff"/><rect x="709" y="754" width="18" height="18" fill="#009bff"/><rect x="727" y="754" width="18" height="18" fill="#008cff"/><rect x="745" y="754" width="18" height="18" fill="#007cff"/><rect x="763" y="754" width="18" height="18" fill="#006cff"/><rect x="781" y="754" width="19" height="18" fill="#005aff"/>
</g>
<path fill="none" stroke="#fff" stroke-width="1" shape-rendering="crispEdges" d="M718.2 36.3L715.7 38.0M717.7 37.7L715.7 38.0L716.7 36.3M772.7 36.3L760.0 42.2M766.3 42.2L760.0 42.2L764.1 37.4M790.9 36.3L777.3 42.6M784.1 42.6L777.3 42.6L781.7 37.5M700.0 54.5L697.9 52.4M698.6 54.2L697.9 52.4L699.8 53.0M718.2 54.5L716.3 52.2M716.8 54.1L716.3 52.2L718.1 53.0M754.5 54.5L744.6 59.1M749.5 59.1L744.6 59.1L747.8 55.3M772.7 54.5L760.0 60.4M766.3 60.4L760.0 60.4L764.1 55.6M790.9 54.5L777.3 60.8M784.1 60.8L777.3 60.8L781.7 55.7M681.8 72.7L677.7 61.4M677.2 66.8L677.7 61.4L681.5 65.2M700.0 72.7L696.2 64.5M696.2 68.6L696.2 64.5L699.3 67.1M718.2 72.7L715.7 68.3M715.9 70.6L715.7 68.3L717.5 69.6M736.4 72.7L730.5 71.6M732.7 73.2L730.5 71.6L733.1 70.9M754.5 72.7L743.7 77.7M749.1 77.7L743.7 77.7L747.1 73.6M772.7 72.7L759.8 78.1M766.1 78.4L759.8 78.1L764.1 73.5M790.9 72.7L776.8 77.8M783.5 78.4L776.8 77.8L781.6 73.0M663.6 90.8L658.6 80.0M658.6 85.4L658.6 80.0L662.7 83.4M681.8 90.8L677.3 79.7M677.0 85.1L677.3 79.7L681.3 83.4M700.0 90.8L695.9 79.6M695.4 84.9L695.9 79.6L699.7 83.4M718.2 90.8L714.8 81.4M714.4 85.9L714.8 81.4L717.9 84.6M736.4 90.8L731.8 84.3M732.4 87.8L731.8 84.3L734.9 86.1M754.5 90.8L745.5 90.8M749.2 92.6L745.5 90.8L749.2 89.1M772.7 90.8L761.1 94.0M766.5 94.9L761.1 94.0L765.3 90.5M790.9 90.8L777.1 93.3M783.2 94.9L777.1 93.3L782.3 89.7M681.8 109.0L672.1 95.1M673.4 102.6L672.1 95.1L678.7 98.9M700.0 109.0L690.8 95.9M692.1 103.0L690.8 95.9L697.1 99.5M718.2 109.0L708.9 97.2M710.5 103.8L708.9 97.2L715.0 100.3M736.4 109.0L727.4 98.3M729.0 104.4L727.4 98.3L733.1 101.0M754.5 109.0L744.2 103.0M747.2 107.5L744.2 103.0L749.5 103.5M772.7 109.0L760.2 105.7M764.6 109.4L760.2 105.7L765.9 104.6M790.9 109.0L776.1 106.4M781.7 110.3L776.1 106.4L782.7 104.7M663.6 127.2L644.0 112.4M649.2 122.2L644.0 112.4L654.8 114.7M681.8 127.2L661.8 112.5M667.1 122.3L661.8 112.5L672.7 114.7M700.0 127.2L679.4 112.6M685.0 122.5L679.4 112.6L690.6 114.6M718.2 127.2L697.3 112.8M703.1 122.7L697.3 112.8L708.6 114.7M736.4 127.2L715.9 113.6M721.7 123.0L715.9 113.6L726.9 115.3M754.5 127.2L735.8 115.2M741.1 123.7L735.8 115.2L745.7 116.6M772.7 127.2L754.7 116.3M760.0 124.2L754.7 116.3L764.1 117.3M790.9 127.2L772.7 116.7M778.1 124.4L772.7 116.7L782.1 117.5M645.5 145.4L626.4 133.3M631.9 141.9L626.4 133.3L636.5 134.6M663.6 145.4L643.8 132.0M649.3 141.2L643.8 132.0L654.4 133.7M681.8 145.4L660.9 131.5M666.8 141.1L660.9 131.5L672.1 133.2M700.0 145.4L678.6 131.3M684.6 141.1L678.6 131.3L690.0 133.0M718.2 145.4L696.2 131.2M702.4 141.2L696.2 131.2L707.8 132.8M736.4 145.4L713.7 131.0M720.2 141.2L713.7 131.0L725.7 132.5M754.5 145.4L732.0 131.5M738.5 141.4L732.0 131.5L743.8 132.8M772.7 145.4L750.3 132.0M756.9 141.7L750.3 132.0L762.0 133.2M790.9 145.4L768.6 132.5M775.2 142.0L768.6 132.5L780.1 133.5M645.5 163.6L626.1 152.5M631.9 160.7L626.1 152.5L636.1 153.3M663.6 163.6L643.2 151.3M649.2 160.2L643.2 151.3L653.9 152.4M681.8 163.6L660.5 150.8M666.8 160.0L660.5 150.8L671.6 151.9M700.0 163.6L678.1 150.3M684.5 159.9L678.1 150.3L689.5 151.6M718.2 163.6L695.9 150.1M702.4 159.8L695.9 150.1L707.5 151.3M736.4 163.6L714.2 150.1M720.7 159.8L714.2 150.1L725.8 151.4M754.5 163.6L732.4 150.4M738.9 160.0L732.4 150.4L744.0 151.5M772.7 163.6L750.6 150.6M757.2 160.1L750.6 150.6L762.1 151.7M790.9 163.6L768.9 150.8M775.4 160.2L768.9 150.8L780.3 151.8M627.3 181.8L608.0 172.2M614.1 179.7L608.0 172.2L617.7 172.4M645.5 181.8L625.3 171.4M631.5 179.4L625.3 171.4L635.5 171.8M663.6 181.8L642.6 170.6M649.1 179.1L642.6 170.6L653.3 171.1M681.8 181.8L660.2 170.0M666.8 178.9L660.2 170.0L671.3 170.7M700.0 181.8L678.0 169.6M684.6 178.7L678.0 169.6L689.3 170.3M718.2 181.8L696.1 169.3M702.8 178.6L696.1 169.3L707.5 170.2M736.4 181.8L714.4 169.1M721.0 178.4L714.4 169.1L725.8 170.1M754.5 181.8L732.6 169.1M739.2 178.4L732.6 169.1L744.0 170.1M772.7 181.8L750.9 169.2M757.4 178.4L750.9 169.2L762.2 170.2M790.9 181.8L769.3 169.3M775.7 178.5L769.3 169.3L780.5 170.2M609.1 199.9L589.8 192.2M596.2 199.0L589.8 192.2L599.1 191.7M627.3 199.9L607.6 191.8M614.1 198.9L607.6 191.8L617.2 191.4M645.5 199.9L625.1 191.3M631.8 198.7L625.1 191.3L635.0 191.0M663.6 199.9L642.7 190.8M649.5 198.5L642.7 190.8L653.0 190.5M681.8 199.9L660.8 190.6M667.6 198.4L660.8 190.6L671.1 190.4M700.0 199.9L678.9 190.4M685.7 198.3L678.9 190.4L689.3 190.3M718.2 199.9L697.1 190.3M703.9 198.2L697.1 190.3L707.6 190.2M736.4 199.9L715.4 190.1M722.1 198.1L715.4 190.1L725.8 190.1M754.5 199.9L733.7 190.1M740.4 198.1L733.7 190.1L744.1 190.2M772.7 199.9L752.1 190.1M758.6 198.1L752.1 190.1L762.4 190.2M790.9 199.9L770.4 190.2M776.9 198.0L770.4 190.2L780.6 190.2M590.9 218.1L571.8 212.1M578.5 218.2L571.8 212.1L580.8 210.9M609.1 218.1L590.1 212.0M596.7 218.1L590.1 212.0L599.0 210.9M627.3 218.1L608.3 211.9M614.8 218.0L608.3 211.9L617.2 210.8M645.5 218.1L626.5 211.7M633.0 217.9L626.5 211.7L635.4 210.7M663.6 218.1L644.7 211.6M651.2 217.9L644.7 211.6L653.7 210.7M681.8 218.1L662.9 211.5M669.4 217.8L662.9 211.5L671.9 210.6M700.0 218.1L681.2 211.4M687.6 217.8L681.2 211.4L690.1 210.6M718.2 218.1L699.4 211.4M705.8 217.7L699.4 211.4L708.3 210.5M736.4 218.1L717.6 211.3M723.9 217.6L717.6 211.3L726.5 210.5M754.5 218.1L735.8 211.2M742.1 217.6L735.8 211.2L744.8 210.4M772.7 218.1L754.0 211.1M760.3 217.5L754.0 211.1L763.0 210.4M790.9 218.1L772.2 211.0M778.5 217.4L772.2 211.0L781.2 210.3M572.7 236.3L557.6 233.0M563.2 237.2L557.6 233.0L564.4 231.4M590.9 236.3L574.4 232.3M580.4 237.0L574.4 232.3L581.9 230.8M609.1 236.3L591.3 231.9M597.7 237.1L591.3 231.9L599.4 230.3M627.3 236.3L609.4 231.8M615.9 237.0L609.4 231.8L617.6 230.3M645.5 236.3L627.6 231.8M634.0 237.0L627.6 231.8L635.8 230.2M663.6 236.3L646.2 231.8M652.5 236.9L646.2 231.8L654.2 230.3M681.8 236.3L664.4 231.8M670.7 236.9L664.4 231.8L672.4 230.3M700.0 236.3L682.6 231.7M688.8 236.9L682.6 231.7L690.6 230.3M718.2 236.3L700.8 231.7M707.0 236.9L700.8 231.7L708.8 230.3M736.4 236.3L719.0 231.7M725.2 236.9L719.0 231.7L727.0 230.3M754.5 236.3L737.2 231.5M743.4 236.8L737.2 231.5L745.2 230.2M772.7 236.3L755.5 231.4M761.6 236.7L755.5 231.4L763.4 230.1M790.9 236.3L773.7 231.2M779.7 236.6L773.7 231.2L781.7 230.0M554.5 254.5L539.0 251.7M544.8 255.8L539.0 251.7L545.9 249.9M572.7 254.5L556.5 251.6M562.6 255.9L556.5 251.6L563.7 249.7M590.9 254.5L574.0 251.5M580.3 255.9L574.0 251.5L581.5 249.5M609.1 254.5L592.2 251.5M598.5 255.9L592.2 251.5L599.6 249.5M627.3 254.5L610.4 251.5M616.7 255.9L610.4 251.5L617.9 249.5M645.5 254.5L628.7 251.5M635.0 255.9L628.7 251.5L636.1 249.5M663.6 254.5L646.7 251.5M653.0 255.9L646.7 251.5L654.2 249.5M681.8 254.5L664.9 251.5M671.2 255.9L664.9 251.5L672.4 249.5M700.0 254.5L683.2 251.5M689.5 255.9L683.2 251.5L690.6 249.5M718.2 254.5L701.4 251.5M707.7 255.9L701.4 251.5L708.8 249.5M736.4 254.5L719.7 251.5M725.9 255.9L719.7 251.5L727.0 249.6M754.5 254.5L737.9 251.4M744.1 255.8L737.9 251.4L745.3 249.5M772.7 254.5L756.2 251.2M762.3 255.7L756.2 251.2L763.6 249.4M790.9 254.5L774.5 251.0M780.5 255.5L774.5 251.0L781.9 249.3M209.1 272.7L197.0 272.7M201.9 275.0L197.0 272.7L201.9 270.4M554.5 272.7L536.9 270.3M543.6 274.6L536.9 270.3L544.5 267.9M572.7 272.7L555.0 270.3M561.8 274.6L555.0 270.3L562.7 267.9M590.9 272.7L573.2 270.3M580.0 274.6L573.2 270.3L580.9 267.9M609.1 272.7L591.8 270.4M598.4 274.6L591.8 270.4L599.3 268.0M627.3 272.7L610.0 270.4M616.6 274.6L610.0 270.4L617.5 268.0M645.5 272.7L628.2 270.4M634.8 274.6L628.2 270.4L635.6 268.1M663.6 272.7L646.1 270.4M652.8 274.7L646.1 270.4L653.7 268.0M681.8 272.7L664.3 270.4M671.0 274.7L664.3 270.4L671.8 268.0M700.0 272.7L682.4 270.5M689.2 274.7L682.4 270.5L690.0 268.0M718.2 272.7L700.6 270.5M707.4 274.7L700.6 270.5L708.2 268.0M736.4 272.7L718.8 270.5M725.5 274.7L718.8 270.5L726.4 268.0M754.5 272.7L737.0 270.3M743.7 274.6L737.0 270.3L744.6 268.0M772.7 272.7L755.2 270.2M761.9 274.5L755.2 270.2L762.8 267.9M790.9 272.7L773.4 270.0M780.0 274.4L773.4 270.0L781.0 267.8M209.1 290.8L196.0 290.8M201.3 293.3L196.0 290.8L201.3 288.4M227.3 290.8L214.7 290.8M219.8 293.2L214.7 290.8L219.8 288.5M245.5 290.8L233.4 290.8M238.3 293.1L233.4 290.8L238.3 288.6M263.6 290.8L252.7 290.8M257.2 292.9L252.7 290.8L257.2 288.8M281.8 290.8L270.9 290.8M275.4 292.9L270.9 290.8L275.4 288.8M536.4 290.8L519.9 289.6M526.4 293.2L519.9 289.6L526.9 287.0M554.5 290.8L537.4 289.3M544.1 293.2L537.4 289.3L544.7 286.7M572.7 290.8L555.6 289.3M562.3 293.2L555.6 289.3L562.9 286.7M590.9 290.8L573.1 289.3M580.1 293.3L573.1 289.3L580.7 286.5M609.1 290.8L592.0 289.4M598.7 293.2L592.0 289.4L599.2 286.7M627.3 290.8L610.2 289.4M616.9 293.3L610.2 289.4L617.4 286.8M645.5 290.8L628.3 289.5M635.1 293.3L628.3 289.5L635.6 286.8M663.6 290.8L645.4 289.4M652.5 293.5L645.4 289.4L653.1 286.5M681.8 290.8L663.6 289.4M670.7 293.5L663.6 289.4L671.3 286.5M700.0 290.8L681.7 289.5M688.9 293.5L681.7 289.5L689.4 286.6M718.2 290.8L699.9 289.5M707.1 293.5L699.9 289.5L707.6 286.6M736.4 290.8L718.1 289.6M725.3 293.6L718.1 289.6L725.8 286.6M754.5 290.8L736.3 289.5M743.5 293.5L736.3 289.5L744.0 286.6M772.7 290.8L755.1 289.4M762.0 293.3L755.1 289.4L762.6 286.7M790.9 290.8L773.3 289.3M780.2 293.3L773.3 289.3L780.8 286.6M227.3 309.0L215.8 309.0M220.5 311.2L215.8 309.0L220.5 306.8M245.5 309.0L231.7 309.0M237.3 311.6L231.7 309.0L237.3 306.4M263.6 309.0L249.9 309.0M255.5 311.6L249.9 309.0L255.5 306.4M281.8 309.0L268.1 309.0M273.7 311.6L268.1 309.0L273.7 306.4M300.0 309.0L287.4 309.0M292.6 311.4L287.4 309.0L292.6 306.6M318.2 309.0L308.0 309.0M312.1 311.0L308.0 309.0L312.1 307.1M500.0 309.0L485.6 308.7M491.4 311.6L485.6 308.7L491.5 306.1M518.2 309.0L501.7 308.5M508.3 311.8L501.7 308.5L508.5 305.6M536.4 309.0L519.9 308.4M526.5 311.8L519.9 308.4L526.7 305.5M554.5 309.0L538.1 308.3M544.7 311.7L538.1 308.3L544.9 305.5M572.7 309.0L556.3 308.3M562.8 311.7L556.3 308.3L563.1 305.5M590.9 309.0L573.8 308.3M580.6 311.8L573.8 308.3L580.9 305.3M609.1 309.0L591.9 308.3M598.8 311.9L591.9 308.3L599.1 305.4M627.3 309.0L610.1 308.4M617.0 311.9L610.1 308.4L617.2 305.4M645.5 309.0L628.3 308.4M635.2 311.9L628.3 308.4L635.4 305.4M663.6 309.0L645.3 308.5M652.7 312.2L645.3 308.5L652.9 305.2M681.8 309.0L663.5 308.5M670.9 312.2L663.5 308.5L671.1 305.3M700.0 309.0L681.7 308.6M689.1 312.3L681.7 308.6L689.2 305.3M718.2 309.0L699.9 308.6M707.3 312.3L699.9 308.6L707.4 305.3M736.4 309.0L718.0 308.7M725.5 312.3L718.0 308.7L725.6 305.4M754.5 309.0L736.2 308.7M743.6 312.3L736.2 308.7L743.8 305.3M772.7 309.0L755.1 308.6M762.2 312.1L755.1 308.6L762.4 305.4M790.9 309.0L773.3 308.6M780.4 312.1L773.3 308.6L780.6 305.4M263.6 327.2L251.1 327.2M256.2 329.6L251.1 327.2L256.2 324.8M281.8 327.2L268.7 327.2M274.1 329.7L268.7 327.2L274.1 324.7M300.0 327.2L287.4 327.2M292.6 329.6L287.4 327.2L292.6 324.8M318.2 327.2L306.1 327.2M311.0 329.5L306.1 327.2L311.0 324.9M336.4 327.2L324.3 327.2M329.2 329.5L324.3 327.2L329.2 324.9M354.5 327.2L341.3 327.2M346.7 329.7L341.3 327.2L346.7 324.7M372.7 327.2L359.2 327.2M364.7 329.8L359.2 327.2L364.7 324.6M390.9 327.2L377.4 327.2M382.9 329.8L377.4 327.2L382.9 324.6M409.1 327.2L395.6 327.2M401.1 329.8L395.6 327.2L401.1 324.6M427.3 327.2L413.8 327.2M419.3 329.8L413.8 327.2L419.3 324.6M445.5 327.2L432.0 327.2M437.5 329.8L432.0 327.2L437.5 324.6M463.6 327.2L450.1 327.2M455.6 329.8L450.1 327.2L455.6 324.6M481.8 327.2L468.2 327.2M473.7 329.8L468.2 327.2L473.7 324.6M500.0 327.2L485.8 327.2M491.6 329.9L485.8 327.2L491.6 324.5M518.2 327.2L503.3 327.2M509.4 330.0L503.3 327.2L509.4 324.4M536.4 327.2L520.8 327.2M527.2 330.2L520.8 327.2L527.2 324.3M554.5 327.2L539.0 327.2M545.3 330.2L539.0 327.2L545.3 324.3M572.7 327.2L556.5 327.2M563.1 330.3L556.5 327.2L563.1 324.1M590.9 327.2L574.0 327.2M580.9 330.4L574.0 327.2L580.9 324.0M609.1 327.2L591.4 327.3M598.6 330.6L591.4 327.3L598.6 323.9M627.3 327.2L609.6 327.4M616.8 330.7L609.6 327.4L616.8 323.9M645.5 327.2L627.8 327.4M635.0 330.7L627.8 327.4L634.9 324.0M663.6 327.2L645.9 327.5M653.2 330.8L645.9 327.5L653.1 324.0M681.8 327.2L664.1 327.6M671.4 330.8L664.1 327.6L671.3 324.1M700.0 327.2L682.3 327.7M689.6 330.8L682.3 327.7L689.4 324.1M718.2 327.2L700.5 327.7M707.8 330.9L700.5 327.7L707.6 324.2M736.4 327.2L718.7 327.8M726.0 330.9L718.7 327.8L725.8 324.2M754.5 327.2L736.9 327.8M744.2 330.9L736.9 327.8L743.9 324.2M772.7 327.2L755.0 327.8M762.4 330.9L755.0 327.8L762.1 324.2M790.9 327.2L773.2 327.8M780.5 330.9L773.2 327.8L780.3 324.2M300.0 345.4L287.3 345.4M292.5 347.8L287.3 345.4L292.5 343.0M318.2 345.4L305.5 345.4M310.7 347.8L305.5 345.4L310.7 343.0M336.4 345.4L323.7 345.4M328.9 347.8L323.7 345.4L328.9 343.0M354.5 345.4L341.5 345.4M346.8 347.9L341.5 345.4L346.8 342.9M372.7 345.4L359.5 345.4M364.9 347.9L359.5 345.4L364.9 342.9M390.9 345.4L377.6 345.3M383.0 347.9L377.6 345.3L383.0 342.8M409.1 345.4L395.6 345.2M401.1 347.9L395.6 345.2L401.1 342.7M427.3 345.4L413.8 345.2M419.2 347.8L413.8 345.2L419.3 342.7M445.5 345.4L432.6 345.1M437.8 347.7L432.6 345.1L437.9 342.8M463.6 345.4L450.8 345.1M456.0 347.7L450.8 345.1L456.1 342.8M481.8 345.4L469.0 345.1M474.2 347.7L469.0 345.1L474.3 342.8M500.0 345.4L487.2 345.8M492.5 348.1L487.2 345.8L492.3 343.2M518.2 345.4L505.6 346.5M510.9 348.4L505.6 346.5L510.5 343.6M536.4 345.4L523.8 346.9M529.2 348.7L523.8 346.9L528.6 343.9M554.5 345.4L542.0 347.3M547.5 348.9L542.0 347.3L546.8 344.1M572.7 345.4L559.3 346.7M565.0 348.7L559.3 346.7L564.5 343.6M590.9 345.4L576.5 346.0M582.5 348.5L576.5 346.0L582.2 343.0M609.1 345.4L593.7 346.0M600.1 348.7L593.7 346.0L599.9 342.8M627.3 345.4L611.5 345.9M618.0 348.7L611.5 345.9L617.8 342.7M645.5 345.4L629.7 345.9M636.2 348.7L629.7 345.9L636.0 342.7M663.6 345.4L647.4 345.8M654.1 348.7L647.4 345.8L654.0 342.6M681.8 345.4L665.6 345.9M672.3 348.8L665.6 345.9L672.1 342.6M700.0 345.4L683.8 345.9M690.5 348.8L683.8 345.9L690.3 342.6M718.2 345.4L702.0 346.0M708.7 348.8L702.0 346.0L708.5 342.7M736.4 345.4L720.2 346.0M726.9 348.8L720.2 346.0L726.7 342.7M754.5 345.4L738.3 346.0M745.1 348.8L738.3 346.0L744.8 342.7M772.7 345.4L756.5 346.0M763.3 348.8L756.5 346.0L763.0 342.7M790.9 345.4L774.7 346.0M781.4 348.8L774.7 346.0L781.2 342.7M300.0 363.6L287.4 363.6M292.6 366.0L287.4 363.6L292.6 361.2M318.2 363.6L305.6 363.6M310.7 366.0L305.6 363.6L310.7 361.2M336.4 363.6L323.8 363.6M328.9 366.0L323.8 363.6L328.9 361.2M354.5 363.6L342.0 363.6M347.1 366.0L342.0 363.6L347.1 361.2M372.7 363.6L359.6 363.6M365.0 366.1L359.6 363.6L365.0 361.1M390.9 363.6L377.8 363.4M383.1 366.0L377.8 363.4L383.2 361.0M409.1 363.6L396.6 363.3M401.7 365.8L396.6 363.3L401.8 361.0M427.3 363.6L414.8 363.2M419.8 365.7L414.8 363.2L420.0 361.0M445.5 363.6L433.1 363.0M438.1 365.6L433.1 363.0L438.3 360.9M463.6 363.6L451.3 363.0M456.2 365.6L451.3 363.0L456.4 360.9M481.8 363.6L469.4 363.0M474.4 365.6L469.4 363.0L474.6 360.9M500.0 363.6L487.6 364.4M492.8 366.4L487.6 364.4L492.5 361.7M518.2 363.6L506.5 365.6M511.7 367.0L506.5 365.6L510.9 362.6M536.4 363.6L525.4 366.2M530.4 367.2L525.4 366.2L529.3 363.1M554.5 363.6L543.8 367.0M548.8 367.6L543.8 367.0L547.5 363.5M572.7 363.6L561.2 365.8M566.3 367.1L561.2 365.8L565.5 362.7M590.9 363.6L577.6 364.7M583.3 366.8L577.6 364.7L582.8 361.7M609.1 363.6L595.6 364.6M601.3 366.7L595.6 364.6L600.9 361.6M627.3 363.6L613.8 364.4M619.5 366.6L613.8 364.4L619.1 361.5M645.5 363.6L631.6 364.2M637.4 366.6L631.6 364.2L637.1 361.3M663.6 363.6L648.7 364.1M654.9 366.7L648.7 364.1L654.7 361.0M681.8 363.6L666.4 364.1M672.8 366.8L666.4 364.1L672.6 361.0M700.0 363.6L684.6 364.2M691.0 366.9L684.6 364.2L690.8 361.0M718.2 363.6L702.8 364.2M709.2 366.9L702.8 364.2L709.0 361.0M736.4 363.6L721.0 364.2M727.4 366.9L721.0 364.2L727.1 361.0M754.5 363.6L739.2 364.2M745.6 366.9L739.2 364.2L745.3 361.0M772.7 363.6L757.3 364.2M763.7 366.9L757.3 364.2L763.5 361.0M790.9 363.6L775.5 364.2M781.9 366.9L775.5 364.2L781.7 361.0M281.8 381.8L269.9 381.8M274.7 384.0L269.9 381.8L274.7 379.5M300.0 381.8L287.5 381.8M292.6 384.1L287.5 381.8L292.6 379.4M318.2 381.8L306.2 381.8M311.1 384.0L306.2 381.8L311.1 379.5M336.4 381.8L324.4 381.8M329.3 384.0L324.4 381.8L329.3 379.5M354.5 381.8L342.6 381.8M347.5 384.0L342.6 381.8L347.5 379.5M372.7 381.8L360.8 381.8M365.6 384.0L360.8 381.8L365.6 379.5M390.9 381.8L379.0 381.6M383.8 383.9L379.0 381.6L383.9 379.4M409.1 381.8L397.6 381.4M402.2 383.7L397.6 381.4L402.3 379.3M427.3 381.8L415.8 381.2M420.4 383.6L415.8 381.2L420.6 379.2M445.5 381.8L434.0 381.0M438.5 383.5L434.0 381.0L438.8 379.1M463.6 381.8L453.0 381.1M457.2 383.4L453.0 381.1L457.4 379.3M481.8 381.8L471.2 381.8M475.5 383.8L471.2 381.8L475.5 379.7M500.0 381.8L490.0 381.8M494.1 383.7L490.0 381.8L494.1 379.9M518.2 381.8L508.7 382.6M512.7 384.0L508.7 382.6L512.4 380.4M536.4 381.8L527.0 383.4M531.1 384.5L527.0 383.4L530.5 381.0M554.5 381.8L544.9 384.3M549.3 385.1L544.9 384.3L548.3 381.4M572.7 381.8L561.4 385.9M566.8 386.3L561.4 385.9L565.3 382.0M590.9 381.8L578.7 386.2M584.5 386.7L578.7 386.2L582.8 382.1M609.1 381.8L595.7 383.2M601.4 385.2L595.7 383.2L600.9 380.1M627.3 381.8L613.8 382.9M619.5 385.0L613.8 382.9L619.1 379.9M645.5 381.8L631.7 382.7M637.5 384.9L631.7 382.7L637.2 379.7M663.6 381.8L649.1 382.4M655.1 384.9L649.1 382.4L654.9 379.4M681.8 381.8L667.0 382.4M673.2 385.0L667.0 382.4L672.9 379.3M700.0 381.8L685.4 382.4M691.5 384.9L685.4 382.4L691.2 379.4M718.2 381.8L703.6 382.4M709.7 384.9L703.6 382.4L709.4 379.4M736.4 381.8L722.1 382.4M728.0 384.9L722.1 382.4L727.8 379.4M754.5 381.8L740.5 382.4M746.4 384.8L740.5 382.4L746.1 379.5M772.7 381.8L758.7 382.4M764.6 384.8L758.7 382.4L764.3 379.5M790.9 381.8L776.9 382.4M782.7 384.8L776.9 382.4L782.5 379.5M281.8 399.9L270.4 399.9M275.1 402.1L270.4 399.9L275.1 397.8M300.0 399.9L288.0 399.9M292.9 402.2L288.0 399.9L292.9 397.7M318.2 399.9L306.2 399.9M311.1 402.2L306.2 399.9L311.1 397.7M336.4 399.9L324.4 399.9M329.3 402.2L324.4 399.9L329.3 397.7M354.5 399.9L342.6 399.9M347.5 402.2L342.6 399.9L347.5 397.7M372.7 399.9L360.8 399.9M365.6 402.2L360.8 399.9L365.6 397.7M390.9 399.9L379.5 399.7M384.1 402.0L379.5 399.7L384.2 397.6M409.1 399.9L398.3 399.5M402.6 401.7L398.3 399.5L402.8 397.6M427.3 399.9L416.5 399.2M420.7 401.6L416.5 399.2L421.0 397.5M445.5 399.9L435.1 399.0M439.1 401.4L435.1 399.0L439.5 397.4M463.6 399.9L457.6 399.9M460.1 401.1L457.6 399.9L460.1 398.8M481.8 399.9L477.8 399.9M479.6 400.8L477.8 399.9L479.6 399.1M500.0 399.9L497.2 398.9M498.6 400.3L497.2 398.9L499.2 398.7M518.2 399.9L515.2 399.9M517.0 400.8L515.2 399.9L517.0 399.1M536.4 399.9L535.1 397.8M535.3 399.8L535.1 397.8L536.8 398.9M554.5 399.9L551.0 399.9M552.9 400.8L551.0 399.9L552.9 399.1M572.7 399.9L566.1 402.3M569.3 402.6L566.1 402.3L568.4 400.1M590.9 399.9L579.6 404.0M585.0 404.5L579.6 404.0L583.4 400.2M609.1 399.9L593.6 402.2M600.3 404.2L593.6 402.2L599.5 398.3M627.3 399.9L611.7 401.7M618.4 403.9L611.7 401.7L617.7 398.0M645.5 399.9L629.8 401.2M636.5 403.7L629.8 401.2L636.0 397.7M663.6 399.9L648.5 400.7M654.8 403.3L648.5 400.7L654.5 397.5M681.8 399.9L667.5 400.7M673.5 403.1L667.5 400.7L673.2 397.7M700.0 399.9L686.3 400.7M692.0 403.0L686.3 400.7L691.7 397.7M718.2 399.9L704.4 400.7M710.2 403.0L704.4 400.7L709.9 397.7M736.4 399.9L722.3 400.7M728.2 403.0L722.3 400.7L727.9 397.7M754.5 399.9L740.0 400.7M746.1 403.2L740.0 400.7L745.8 397.6M772.7 399.9L757.4 400.7M763.8 403.3L757.4 400.7L763.5 397.5M790.9 399.9L775.5 400.7M782.0 403.3L775.5 400.7L781.7 397.5M300.0 418.1L290.0 418.1M294.1 420.0L290.0 418.1L294.1 416.2M318.2 418.1L308.2 418.1M312.2 420.0L308.2 418.1L312.2 416.2M336.4 418.1L325.7 418.1M330.0 420.2L325.7 418.1L330.0 416.1M354.5 418.1L343.2 418.1M347.8 420.3L343.2 418.1L347.8 416.0M372.7 418.1L361.3 418.1M366.0 420.3L361.3 418.1L366.0 416.0M390.9 418.1L379.5 417.6M384.1 420.0L379.5 417.6L384.3 415.7M409.1 418.1L398.3 417.2M402.5 419.6L398.3 417.2L402.9 415.5M427.3 418.1L416.9 416.8M420.9 419.3L416.9 416.8L421.4 415.3M445.5 418.1L435.5 416.4M439.2 419.0L435.5 416.4L439.9 415.2M463.6 418.1L454.3 416.3M457.8 418.8L454.3 416.3L458.5 415.3M481.8 418.1L475.9 417.1M478.1 418.6L475.9 417.1L478.5 416.4M500.0 418.1L493.0 418.1M495.9 419.4L493.0 418.1L495.9 416.8M518.2 418.1L512.2 418.6M514.7 419.6L512.2 418.6L514.5 417.3M536.4 418.1L531.4 423.1M534.4 422.0L531.4 423.1L532.5 420.1M554.5 418.1L549.0 423.6M552.3 422.4L549.0 423.6L550.2 420.3M572.7 418.1L564.1 423.1M568.5 422.7L564.1 423.1L566.6 419.4M590.9 418.1L579.1 423.6M585.0 423.6L579.1 423.6L582.9 419.1M609.1 418.1L592.5 420.8M599.8 422.9L592.5 420.8L598.8 416.5M627.3 418.1L610.8 420.2M617.9 422.5L610.8 420.2L617.1 416.2M645.5 418.1L629.1 419.7M636.1 422.1L629.1 419.7L635.5 415.9M663.6 418.1L648.0 419.1M654.6 421.7L648.0 419.1L654.2 415.7M681.8 418.1L667.8 418.9M673.7 421.3L667.8 418.9L673.4 415.9M700.0 418.1L686.9 418.9M692.4 421.0L686.9 418.9L692.1 416.1M718.2 418.1L704.8 418.8M710.4 421.1L704.8 418.8L710.1 416.0M736.4 418.1L722.1 418.9M728.0 421.3L722.1 418.9L727.8 415.8M754.5 418.1L738.1 419.0M745.0 421.8L738.1 419.0L744.6 415.5M772.7 418.1L755.5 419.0M762.7 421.9L755.5 419.0L762.3 415.4M790.9 418.1L773.6 419.0M780.9 421.9L773.6 419.0L780.5 415.4M336.4 436.3L326.1 436.3M330.3 438.2L326.1 436.3L330.3 434.4M354.5 436.3L343.6 436.3M348.1 438.4L343.6 436.3L348.1 434.2M372.7 436.3L361.8 436.3M366.3 438.4L361.8 436.3L366.3 434.2M390.9 436.3L380.7 435.6M384.7 437.8L380.7 435.6L385.0 434.0M409.1 436.3L399.5 435.0M403.2 437.4L399.5 435.0L403.6 433.7M427.3 436.3L418.4 434.5M421.7 436.9L418.4 434.5L422.4 433.6M445.5 436.3L437.3 434.1M440.2 436.6L437.3 434.1L441.0 433.5M463.6 436.3L456.1 433.9M458.7 436.3L456.1 433.9L459.6 433.5M481.8 436.3L474.5 433.6M477.0 436.1L474.5 433.6L478.0 433.3M500.0 436.3L496.1 435.6M497.7 436.8L496.1 435.6L498.0 435.1M518.2 436.3L510.2 436.3M513.4 437.8L510.2 436.3L513.4 434.8M536.4 436.3L526.3 437.8M530.7 439.1L526.3 437.8L530.1 435.3M554.5 436.3L541.8 439.0M547.5 440.3L541.8 439.0L546.5 435.5M572.7 436.3L558.4 439.4M564.8 440.8L558.4 439.4L563.6 435.4M590.9 436.3L575.1 439.7M582.2 441.3L575.1 439.7L580.9 435.3M609.1 436.3L591.9 439.3M599.5 441.4L591.9 439.3L598.4 434.8M627.3 436.3L610.4 438.7M617.7 440.9L610.4 438.7L616.8 434.5M645.5 436.3L628.9 438.0M636.0 440.5L628.9 438.0L635.3 434.2M663.6 436.3L648.7 437.3M655.0 439.8L648.7 437.3L654.6 434.1M681.8 436.3L668.4 437.2M674.0 439.4L668.4 437.2L673.7 434.3M700.0 436.3L686.5 437.1M692.2 439.3L686.5 437.1L691.9 434.2M718.2 436.3L703.9 437.1M709.9 439.5L703.9 437.1L709.6 434.1M736.4 436.3L720.6 437.1M727.2 439.8L720.6 437.1L726.9 433.8M754.5 436.3L737.5 437.2M744.6 440.1L737.5 437.2L744.3 433.6M772.7 436.3L755.7 437.2M762.8 440.1L755.7 437.2L762.4 433.6M790.9 436.3L773.8 437.2M781.0 440.1L773.8 437.2L780.6 433.6M336.4 454.5L326.1 454.5M330.3 456.4L326.1 454.5L330.3 452.5M354.5 454.5L343.6 454.5M348.1 456.6L343.6 454.5L348.1 452.4M372.7 454.5L361.8 454.5M366.3 456.6L361.8 454.5L366.3 452.4M390.9 454.5L380.7 453.5M384.7 455.8L380.7 453.5L385.1 452.0M409.1 454.5L399.6 452.6M403.1 455.2L399.6 452.6L403.8 451.6M427.3 454.5L418.7 451.9M421.7 454.6L418.7 451.9L422.7 451.3M445.5 454.5L437.6 451.2M440.2 454.1L437.6 451.2L441.4 451.1M463.6 454.5L456.8 450.5M458.8 453.5L456.8 450.5L460.3 450.8M481.8 454.5L475.5 449.7M477.2 452.8L475.5 449.7L479.0 450.4M500.0 454.5L497.0 454.5M498.8 455.3L497.0 454.5L498.8 453.6M518.2 454.5L512.2 455.0M514.7 455.9L512.2 455.0L514.5 453.7M536.4 454.5L524.4 457.1M529.8 458.3L524.4 457.1L528.8 453.7M554.5 454.5L539.4 457.7M546.2 459.3L539.4 457.7L544.9 453.5M572.7 454.5L557.0 457.8M564.0 459.5L557.0 457.8L562.8 453.5M590.9 454.5L574.6 458.0M581.9 459.6L574.6 458.0L580.6 453.4M609.1 454.5L592.7 457.5M599.9 459.4L592.7 457.5L598.8 453.1M627.3 454.5L611.1 456.9M618.2 459.0L611.1 456.9L617.3 452.8M645.5 454.5L629.6 456.4M636.4 458.6L629.6 456.4L635.7 452.6M663.6 454.5L648.3 455.8M654.8 458.2L648.3 455.8L654.3 452.4M681.8 454.5L667.4 455.6M673.5 457.9L667.4 455.6L673.1 452.4M700.0 454.5L686.3 455.4M692.0 457.6L686.3 455.4L691.7 452.4M718.2 454.5L703.8 455.3M709.8 457.7L703.8 455.3L709.5 452.2M736.4 454.5L720.3 455.2M727.0 458.0L720.3 455.2L726.7 451.8M754.5 454.5L737.5 455.1M744.6 458.1L737.5 455.1L744.3 451.6M772.7 454.5L755.6 455.0M762.7 458.1L755.6 455.0L762.5 451.6M790.9 454.5L773.8 454.9M780.9 458.0L773.8 454.9L780.7 451.5M336.4 472.7L324.9 472.7M329.6 474.8L324.9 472.7L329.6 470.5M354.5 472.7L343.1 472.7M347.7 474.8L343.1 472.7L347.7 470.5M372.7 472.7L361.2 472.7M365.9 474.8L361.2 472.7L365.9 470.5M390.9 472.7L380.1 471.3M384.2 473.9L380.1 471.3L384.8 469.8M409.1 472.7L398.6 469.8M402.3 473.0L398.6 469.8L403.4 469.0M427.3 472.7L417.8 468.7M420.9 472.1L417.8 468.7L422.4 468.5M445.5 472.7L437.2 467.9M439.7 471.4L437.2 467.9L441.5 468.3M463.6 472.7L457.1 466.7M458.6 470.4L457.1 466.7L460.9 467.9M481.8 472.7L477.5 466.5M478.1 469.8L477.5 466.5L480.4 468.2M500.0 472.7L495.3 474.4M497.5 474.6L495.3 474.4L496.9 472.8M518.2 472.7L510.0 476.5M514.1 476.5L510.0 476.5L512.6 473.4M536.4 472.7L523.9 476.2M529.7 477.1L523.9 476.2L528.3 472.4M554.5 472.7L538.9 476.0M545.9 477.6L538.9 476.0L544.7 471.7M572.7 472.7L556.5 476.1M563.8 477.8L556.5 476.1L562.5 471.6M590.9 472.7L574.6 476.1M581.9 477.8L574.6 476.1L580.6 471.6M609.1 472.7L592.0 475.8M599.5 477.8L592.0 475.8L598.3 471.3M627.3 472.7L610.5 475.3M617.8 477.4L610.5 475.3L616.8 471.0M645.5 472.7L629.7 474.7M636.5 476.9L629.7 474.7L635.7 470.9M663.6 472.7L649.0 474.2M655.3 476.4L649.0 474.2L654.7 470.8M681.8 472.7L667.4 473.9M673.5 476.1L667.4 473.9L673.1 470.7M700.0 472.7L685.6 473.7M691.7 476.0L685.6 473.7L691.3 470.5M718.2 472.7L703.1 473.5M709.4 476.0L703.1 473.5L709.1 470.3M736.4 472.7L721.0 473.2M727.4 475.9L721.0 473.2L727.2 470.1M754.5 472.7L738.1 473.0M744.9 476.0L738.1 473.0L744.8 469.8M772.7 472.7L756.3 472.9M763.0 475.9L756.3 472.9L763.0 469.7M790.9 472.7L774.5 472.7M781.2 475.8L774.5 472.7L781.2 469.5M318.2 490.8L307.3 491.9M312.0 493.6L307.3 491.9L311.5 489.4M336.4 490.8L324.3 491.7M329.4 493.7L324.3 491.7L329.1 489.1M354.5 490.8L342.5 491.4M347.5 493.5L342.5 491.4L347.3 488.9M372.7 490.8L360.7 491.1M365.6 493.3L360.7 491.1L365.5 488.7M390.9 490.8L379.5 489.4M383.9 492.2L379.5 489.4L384.4 487.8M409.1 490.8L398.6 487.8M402.3 491.0L398.6 487.8L403.5 487.1M427.3 490.8L418.0 486.5M421.0 490.0L418.0 486.5L422.6 486.5M445.5 490.8L437.5 485.5M439.7 489.2L437.5 485.5L441.8 486.2M463.6 490.8L457.4 484.6M458.7 488.3L457.4 484.6L461.1 485.9M481.8 490.8L478.0 485.2M478.5 488.2L478.0 485.2L480.7 486.8M500.0 490.8L495.1 494.3M497.7 493.8L495.1 494.3L496.4 491.9M518.2 490.8L510.5 497.3M514.9 496.1L510.5 497.3L512.4 493.2M536.4 490.8L523.7 495.1M529.7 495.8L523.7 495.1L528.1 491.0M554.5 490.8L539.4 495.1M546.4 496.3L539.4 495.1L544.8 490.5M572.7 490.8L557.2 495.2M564.3 496.4L557.2 495.2L562.7 490.5M590.9 490.8L575.2 495.3M582.4 496.5L575.2 495.3L580.8 490.5M609.1 490.8L592.5 495.0M600.0 496.5L592.5 495.0L598.5 490.1M627.3 490.8L611.5 494.3M618.6 495.9L611.5 494.3L617.3 489.9M645.5 490.8L631.3 493.5M637.6 495.1L631.3 493.5L636.5 489.7M663.6 490.8L650.4 492.9M656.2 494.6L650.4 492.9L655.4 489.6M681.8 490.8L668.2 492.6M674.1 494.5L668.2 492.6L673.4 489.3M700.0 490.8L685.6 492.2M691.7 494.4L685.6 492.2L691.2 488.9M718.2 490.8L703.1 491.8M709.4 494.3L703.1 491.8L709.1 488.6M736.4 490.8L721.3 491.4M727.5 494.0L721.3 491.4L727.3 488.3M754.5 490.8L738.7 491.2M745.3 494.1L738.7 491.2L745.1 488.1M772.7 490.8L756.9 491.0M763.4 494.0L756.9 491.0L763.3 487.9M790.9 490.8L775.1 490.8M781.6 493.8L775.1 490.8L781.6 487.8M300.0 509.0L290.1 511.7M294.7 512.5L290.1 511.7L293.6 508.7M318.2 509.0L306.4 511.5M311.7 512.7L306.4 511.5L310.7 508.2M336.4 509.0L323.9 510.9M329.4 512.5L323.9 510.9L328.6 507.8M354.5 509.0L342.0 510.2M347.4 512.1L342.0 510.2L346.9 507.4M372.7 509.0L360.7 509.6M365.7 511.6L360.7 509.6L365.5 507.0M390.9 509.0L379.5 507.6M383.9 510.3L379.5 507.6L384.4 506.0M409.1 509.0L398.7 505.8M402.3 509.1L398.7 505.8L403.5 505.1M427.3 509.0L418.2 504.3M421.0 507.9L418.2 504.3L422.8 504.5M445.5 509.0L437.9 503.2M439.9 507.0L437.9 503.2L442.1 504.1M463.6 509.0L457.7 502.5M458.8 506.3L457.7 502.5L461.3 504.0M481.8 509.0L478.2 503.3M478.6 506.3L478.2 503.3L480.7 504.9M500.0 509.0L495.1 512.5M497.7 512.0L495.1 512.5L496.4 510.1M518.2 509.0L510.5 515.5M514.9 514.3L510.5 515.5L512.4 511.4M536.4 509.0L523.0 514.3M529.5 514.7L523.0 514.3L527.5 509.6M554.5 509.0L540.0 514.2M546.9 514.8L540.0 514.2L545.0 509.3M572.7 509.0L558.1 514.2M565.0 514.9L558.1 514.2L563.1 509.3M590.9 509.0L576.3 514.2M583.2 514.9L576.3 514.2L581.3 509.3M609.1 509.0L593.6 513.9M600.9 514.9L593.6 513.9L599.0 509.0M627.3 509.0L612.8 513.1M619.5 514.2L612.8 513.1L617.9 508.7M645.5 509.0L632.3 512.3M638.3 513.4L632.3 512.3L637.1 508.4M663.6 509.0L651.2 511.7M656.8 512.9L651.2 511.7L655.8 508.2M681.8 509.0L669.4 511.1M674.9 512.6L669.4 511.1L674.1 507.9M700.0 509.0L687.0 510.6M692.6 512.4L687.0 510.6L692.0 507.5M718.2 509.0L704.5 510.1M710.3 512.3L704.5 510.1L709.9 507.1M736.4 509.0L721.9 509.5M727.9 512.1L721.9 509.5L727.7 506.6M754.5 509.0L740.1 509.4M746.1 512.0L740.1 509.4L745.9 506.5M772.7 509.0L758.3 509.2M764.2 511.9L758.3 509.2L764.1 506.4M790.9 509.0L776.5 509.0M782.4 511.8L776.5 509.0L782.4 506.3M281.8 527.2L271.9 531.7M276.8 531.8L271.9 531.7L275.1 528.0M300.0 527.2L289.4 531.6M294.6 531.8L289.4 531.6L292.9 527.8M318.2 527.2L306.7 530.9M312.1 531.6L306.7 530.9L310.7 527.2M336.4 527.2L324.6 529.9M329.9 531.1L324.6 529.9L328.9 526.6M354.5 527.2L342.6 529.0M347.8 530.5L342.6 529.0L347.1 526.0M372.7 527.2L360.7 528.0M365.7 530.0L360.7 528.0L365.4 525.4M390.9 527.2L379.5 525.8M383.9 528.5L379.5 525.8L384.4 524.2M409.1 527.2L398.8 523.7M402.3 527.1L398.8 523.7L403.6 523.2M427.3 527.2L418.5 522.0M421.1 525.8L418.5 522.0L423.0 522.5M445.5 527.2L438.3 520.9M440.0 524.8L438.3 520.9L442.4 522.1M463.6 527.2L457.5 519.9M458.6 524.0L457.5 519.9L461.4 521.7M481.8 527.2L477.6 520.2M478.0 523.9L477.6 520.2L480.6 522.3M500.0 527.2L497.0 527.2M498.8 528.1L497.0 527.2L498.8 526.4M518.2 527.2L511.5 533.2M515.4 532.0L511.5 533.2L513.1 529.5M536.4 527.2L523.9 532.8M530.1 532.9L523.9 532.8L527.9 528.2M554.5 527.2L541.2 532.9M547.7 533.1L541.2 532.9L545.6 528.1M572.7 527.2L559.4 532.9M565.9 533.1L559.4 532.9L563.7 528.1M590.9 527.2L578.0 532.8M584.3 533.0L578.0 532.8L582.2 528.0M609.1 527.2L595.8 532.4M602.2 532.8L595.8 532.4L600.2 527.7M627.3 527.2L614.5 531.6M620.6 532.3L614.5 531.6L618.9 527.4M645.5 527.2L633.3 531.0M638.9 531.7L633.3 531.0L637.5 527.1M663.6 527.2L651.9 530.4M657.3 531.3L651.9 530.4L656.1 526.8M681.8 527.2L670.0 529.7M675.3 530.9L670.0 529.7L674.4 526.4M700.0 527.2L687.6 529.1M693.0 530.7L687.6 529.1L692.3 525.9M718.2 527.2L705.2 528.4M710.7 530.4L705.2 528.4L710.2 525.4M736.4 527.2L722.6 527.7M728.3 530.1L722.6 527.7L728.1 524.9M754.5 527.2L740.8 527.5M746.5 530.0L740.8 527.5L746.3 524.8M772.7 527.2L759.0 527.4M764.6 529.9L759.0 527.4L764.5 524.7M790.9 527.2L777.1 527.2M782.8 529.8L777.1 527.2L782.8 524.6M263.6 545.4L255.8 550.9M260.0 550.1L255.8 550.9L258.0 547.1M281.8 545.4L272.6 551.2M277.5 550.6L272.6 551.2L275.3 547.1M300.0 545.4L290.1 551.1M295.2 550.7L290.1 551.1L293.0 546.9M318.2 545.4L307.7 550.0M312.8 550.1L307.7 550.0L311.1 546.1M336.4 545.4L325.4 548.8M330.5 549.5L325.4 548.8L329.2 545.4M354.5 545.4L343.3 547.6M348.3 548.9L343.3 547.6L347.5 544.6M372.7 545.4L361.3 546.4M366.1 548.2L361.3 546.4L365.8 543.8M390.9 545.4L380.1 544.1M384.2 546.7L380.1 544.1L384.7 542.6M409.1 545.4L399.5 541.9M402.7 545.1L399.5 541.9L404.1 541.5M427.3 545.4L418.7 539.8M421.1 543.7L418.7 539.8L423.3 540.5M445.5 545.4L438.7 538.6M440.2 542.7L438.7 538.6L442.7 540.1M463.6 545.4L457.8 537.8M458.8 542.0L457.8 537.8L461.6 539.8M481.8 545.4L477.4 537.7M477.7 541.7L477.4 537.7L480.7 540.0M500.0 545.4L492.2 543.1M494.9 545.5L492.2 543.1L495.8 542.5M518.2 545.4L507.4 550.9M512.9 550.7L507.4 550.9L510.8 546.6M536.4 545.4L524.2 551.6M530.3 551.4L524.2 551.6L528.0 546.8M554.5 545.4L541.7 551.9M548.2 551.7L541.7 551.9L545.7 546.8M572.7 545.4L559.9 551.9M566.4 551.7L559.9 551.9L563.9 546.8M590.9 545.4L578.5 551.7M584.7 551.5L578.5 551.7L582.3 546.8M609.1 545.4L597.2 550.9M603.1 550.9L597.2 550.9L601.0 546.4M627.3 545.4L615.2 550.4M621.1 550.7L615.2 550.4L619.2 546.1M645.5 545.4L633.2 549.9M639.0 550.4L633.2 549.9L637.3 545.7M663.6 545.4L651.7 549.3M657.3 550.0L651.7 549.3L655.8 545.4M681.8 545.4L670.7 548.2M675.7 549.2L670.7 548.2L674.7 544.9M700.0 545.4L688.1 547.5M693.4 548.9L688.1 547.5L692.6 544.4M718.2 545.4L705.7 546.7M711.0 548.5L705.7 546.7L710.5 543.8M736.4 545.4L723.8 545.8M729.0 548.0L723.8 545.8L728.8 543.3M754.5 545.4L742.0 545.7M747.2 548.0L742.0 545.7L747.0 543.2M772.7 545.4L760.2 545.5M765.3 547.9L760.2 545.5L765.3 543.1M790.9 545.4L778.3 545.4M783.5 547.8L778.3 545.4L783.5 543.0M245.5 563.6L238.5 570.1M242.5 568.7L238.5 570.1L240.1 566.1M263.6 563.6L255.3 570.6M260.0 569.3L255.3 570.6L257.4 566.1M281.8 563.6L273.1 570.2M277.9 569.1L273.1 570.2L275.4 565.8M300.0 563.6L291.0 569.7M295.8 568.9L291.0 569.7L293.5 565.5M318.2 563.6L308.5 568.6M313.4 568.4L308.5 568.6L311.5 564.7M336.4 563.6L326.1 567.2M331.0 567.7L326.1 567.2L329.6 563.8M354.5 563.6L343.9 565.9M348.7 567.0L343.9 565.9L347.8 562.9M372.7 563.6L361.9 564.5M366.5 566.2L361.9 564.5L366.1 562.1M390.9 563.6L380.7 562.5M384.7 564.9L380.7 562.5L385.1 561.0M409.1 563.6L400.0 560.6M403.2 563.5L400.0 560.6L404.3 560.1M427.3 563.6L419.0 558.8M421.5 562.3L419.0 558.8L423.3 559.2M445.5 563.6L438.3 557.3M440.0 561.2L438.3 557.3L442.4 558.5M463.6 563.6L457.1 556.6M458.4 560.7L457.1 556.6L461.1 558.2M481.8 563.6L476.4 556.5M477.3 560.4L476.4 556.5L480.0 558.4M500.0 563.6L493.3 562.1M495.8 564.0L493.3 562.1L496.3 561.4M518.2 563.6L508.5 568.5M513.4 568.4L508.5 568.5L511.5 564.7M536.4 563.6L524.5 569.6M530.5 569.4L524.5 569.6L528.2 564.9M554.5 563.6L542.7 569.7M548.7 569.4L542.7 569.7L546.4 564.9M572.7 563.6L560.3 570.0M566.6 569.7L560.3 570.0L564.2 565.0M590.9 563.6L579.2 569.8M585.1 569.5L579.2 569.8L582.8 565.0M609.1 563.6L597.3 569.3M603.2 569.2L597.3 569.3L601.0 564.7M627.3 563.6L615.3 568.8M621.2 569.0L615.3 568.8L619.2 564.4M645.5 563.6L633.3 568.4M639.2 568.8L633.3 568.4L637.3 564.1M663.6 563.6L652.3 567.6M657.7 568.1L652.3 567.6L656.1 563.8M681.8 563.6L670.9 566.6M675.9 567.4L670.9 566.6L674.8 563.3M700.0 563.6L688.9 565.8M693.8 567.0L688.9 565.8L693.0 562.8M718.2 563.6L707.0 564.9M711.8 566.5L707.0 564.9L711.3 562.2M736.4 563.6L725.1 564.1M729.8 566.0L725.1 564.1L729.6 561.7M754.5 563.6L743.2 563.9M747.9 565.9L743.2 563.9L747.8 561.6M772.7 563.6L761.4 563.8M766.1 565.8L761.4 563.8L766.0 561.5M790.9 563.6L779.6 563.6M784.2 565.7L779.6 563.6L784.2 561.4M209.1 581.8L202.1 590.9M206.7 588.5L202.1 590.9L203.2 585.8M227.3 581.8L220.1 590.7M224.7 588.4L220.1 590.7L221.3 585.7M245.5 581.8L238.2 589.9M242.7 588.0L238.2 589.9L239.6 585.2M263.6 581.8L255.5 589.9M260.4 588.1L255.5 589.9L257.3 585.0M281.8 581.8L273.3 589.5M278.2 587.9L273.3 589.5L275.3 584.7M300.0 581.8L291.5 588.6M296.3 587.4L291.5 588.6L293.7 584.2M318.2 581.8L308.8 587.3M313.7 586.8L308.8 587.3L311.6 583.3M336.4 581.8L326.2 585.8M331.1 586.1L326.2 585.8L329.6 582.2M354.5 581.8L343.9 584.2M348.7 585.3L343.9 584.2L347.8 581.2M372.7 581.8L362.5 582.6M366.9 584.2L362.5 582.6L366.5 580.3M390.9 581.8L380.7 580.8M384.7 583.1L380.7 580.8L385.1 579.3M409.1 581.8L399.9 579.1M403.2 581.9L399.9 579.1L404.2 578.4M427.3 581.8L418.8 577.4M421.4 580.8L418.8 577.4L423.1 577.6M445.5 581.8L437.9 575.9M439.9 579.8L437.9 575.9L442.1 576.9M463.6 581.8L456.5 575.5M458.2 579.4L456.5 575.5L460.6 576.7M481.8 581.8L475.5 575.5M476.9 579.2L475.5 575.5L479.3 576.9M500.0 581.8L493.2 580.8M495.8 582.5L493.2 580.8L496.2 579.9M518.2 581.8L508.5 586.7M513.4 586.5L508.5 586.7L511.5 582.8M536.4 581.8L524.7 587.7M530.6 587.5L524.7 587.7L528.3 583.1M554.5 581.8L542.9 587.8M548.8 587.5L542.9 587.8L546.5 583.1M572.7 581.8L561.2 587.9M567.1 587.6L561.2 587.9L564.7 583.2M590.9 581.8L579.4 588.0M585.3 587.6L579.4 588.0L582.9 583.3M609.1 581.8L597.4 587.6M603.3 587.5L597.4 587.6L601.1 583.0M627.3 581.8L615.4 587.3M621.3 587.3L615.4 587.3L619.2 582.8M645.5 581.8L633.9 586.7M639.6 586.9L633.9 586.7L637.7 582.5M663.6 581.8L653.0 586.0M658.1 586.3L653.0 586.0L656.5 582.2M681.8 581.8L672.3 584.7M676.7 585.3L672.3 584.7L675.6 581.7M700.0 581.8L690.3 583.9M694.7 584.9L690.3 583.9L693.8 581.2M718.2 581.8L709.0 583.0M713.0 584.3L709.0 583.0L712.5 580.8M736.4 581.8L727.1 582.3M731.0 583.8L727.1 582.3L730.8 580.3M754.5 581.8L744.6 582.2M748.7 583.9L744.6 582.2L748.6 580.1M772.7 581.8L762.8 582.0M766.9 583.8L762.8 582.0L766.8 580.0M790.9 581.8L781.0 581.8M785.0 583.6L781.0 581.8L785.0 579.9M136.4 599.9L130.7 610.6M135.1 607.3L130.7 610.6L131.0 605.2M154.5 599.9L148.8 610.5M153.2 607.3L148.8 610.5L149.1 605.1M172.7 599.9L166.5 610.9M171.1 607.6L166.5 610.9L167.0 605.2M190.9 599.9L184.5 610.8M189.2 607.6L184.5 610.8L185.1 605.1M209.1 599.9L202.5 610.6M207.2 607.5L202.5 610.6L203.2 605.0M227.3 599.9L220.8 610.1M225.3 607.2L220.8 610.1L221.5 604.7M245.5 599.9L238.7 609.2M243.2 606.7L238.7 609.2L239.7 604.1M263.6 599.9L256.3 608.8M261.0 606.6L256.3 608.8L257.6 603.8M281.8 599.9L274.0 608.3M278.8 606.4L274.0 608.3L275.6 603.4M300.0 599.9L292.1 607.4M296.7 605.9L292.1 607.4L293.9 602.9M318.2 599.9L309.2 606.1M314.0 605.3L309.2 606.1L311.7 601.8M336.4 599.9L327.0 604.1M331.6 604.2L327.0 604.1L330.0 600.6M354.5 599.9L344.6 602.5M349.2 603.3L344.6 602.5L348.2 599.5M372.7 599.9L362.5 600.8M366.9 602.4L362.5 600.8L366.5 598.5M390.9 599.9L381.4 599.2M385.1 601.3L381.4 599.2L385.4 597.7M409.1 599.9L399.8 597.6M403.2 600.3L399.8 597.6L404.1 596.8M427.3 599.9L418.6 596.0M421.4 599.3L418.6 596.0L422.9 596.0M445.5 599.9L437.5 594.6M439.7 598.3L437.5 594.6L441.8 595.3M463.6 599.9L456.4 594.8M458.4 598.3L456.4 594.8L460.3 595.5M481.8 599.9L474.8 594.6M476.6 598.1L474.8 594.6L478.7 595.4M500.0 599.9L492.5 599.3M495.5 601.0L492.5 599.3L495.7 598.1M518.2 599.9L508.5 604.9M513.4 604.7L508.5 604.9L511.5 601.0M536.4 599.9L525.2 605.7M530.9 605.5L525.2 605.7L528.7 601.2M554.5 599.9L543.0 606.0M548.8 605.7L543.0 606.0L546.5 601.3M572.7 599.9L561.2 606.2M567.1 605.8L561.2 606.2L564.7 601.4M590.9 599.9L579.5 606.3M585.4 605.9L579.5 606.3L582.9 601.6M609.1 599.9L598.0 605.8M603.6 605.5L598.0 605.8L601.4 601.3M627.3 599.9L616.0 605.5M621.7 605.4L616.0 605.5L619.5 601.1M645.5 599.9L634.5 605.0M639.9 605.0L634.5 605.0L638.0 600.8M663.6 599.9L653.1 604.5M658.2 604.6L653.1 604.5L656.5 600.6M681.8 599.9L672.4 603.1M676.8 603.6L672.4 603.1L675.6 600.0M700.0 599.9L690.3 602.3M694.7 603.2L690.3 602.3L693.8 599.5M718.2 599.9L709.0 601.4M713.0 602.5L709.0 601.4L712.5 599.0M736.4 599.9L726.4 600.7M730.6 602.3L726.4 600.7L730.3 598.5M754.5 599.9L744.6 600.4M748.8 602.1L744.6 600.4L748.6 598.3M772.7 599.9L762.8 600.2M766.9 602.0L762.8 600.2L766.8 598.2M790.9 599.9L781.0 599.9M785.0 601.8L781.0 599.9L785.0 598.0M27.3 618.1L22.4 631.4M26.9 626.9L22.4 631.4L21.9 625.1M45.5 618.1L40.6 631.4M45.1 626.9L40.6 631.4L40.1 625.1M63.6 618.1L58.8 631.4M63.3 626.9L58.8 631.4L58.2 625.1M81.8 618.1L77.0 631.4M81.5 626.9L77.0 631.4L76.4 625.1M100.0 618.1L95.0 631.4M99.5 626.9L95.0 631.4L94.5 625.0M118.2 618.1L113.0 631.3M117.6 626.9L113.0 631.3L112.6 624.9M136.4 618.1L131.3 630.6M135.7 626.5L131.3 630.6L131.0 624.5M154.5 618.1L149.3 630.5M153.8 626.5L149.3 630.5L149.1 624.5M172.7 618.1L167.4 630.1M171.8 626.2L167.4 630.1L167.3 624.2M190.9 618.1L185.4 630.0M189.9 626.2L185.4 630.0L185.4 624.1M209.1 618.1L203.6 629.4M208.0 625.9L203.6 629.4L203.7 623.8M227.3 618.1L221.8 628.9M226.1 625.5L221.8 628.9L222.0 623.4M245.5 618.1L239.6 628.0M243.9 625.1L239.6 628.0L240.1 622.8M263.6 618.1L257.1 627.6M261.6 625.0L257.1 627.6L258.0 622.5M281.8 618.1L275.1 626.7M279.4 624.5L275.1 626.7L276.2 621.9M300.0 618.1L292.7 626.2M297.2 624.3L292.7 626.2L294.1 621.5M318.2 618.1L310.1 624.4M314.6 623.4L310.1 624.4L312.2 620.3M336.4 618.1L327.2 622.7M331.8 622.6L327.2 622.7L330.1 619.1M354.5 618.1L345.3 620.6M349.6 621.4L345.3 620.6L348.6 617.9M372.7 618.1L363.2 618.9M367.3 620.4L363.2 618.9L366.9 616.8M390.9 618.1L382.1 617.6M385.6 619.5L382.1 617.6L385.8 616.1M409.1 618.1L400.4 616.2M403.6 618.6L400.4 616.2L404.3 615.3M427.3 618.1L419.0 614.9M421.8 617.8L419.0 614.9L423.0 614.6M445.5 618.1L437.8 613.7M440.1 617.0L437.8 613.7L441.8 614.0M463.6 618.1L456.0 613.7M458.2 617.0L456.0 613.7L459.9 614.0M481.8 618.1L474.7 614.0M476.8 617.0L474.7 614.0L478.4 614.3M500.0 618.1L492.5 617.9M495.5 619.4L492.5 617.9L495.6 616.6M518.2 618.1L509.1 622.8M513.7 622.6L509.1 622.8L511.9 619.1M536.4 618.1L525.7 623.7M531.1 623.4L525.7 623.7L529.0 619.4M554.5 618.1L543.4 624.0M549.1 623.7L543.4 624.0L546.8 619.5M572.7 618.1L561.7 624.2M567.4 623.8L561.7 624.2L565.1 619.6M590.9 618.1L580.0 624.4M585.7 623.9L580.0 624.4L583.3 619.8M609.1 618.1L598.5 623.9M603.9 623.6L598.5 623.9L601.7 619.5M627.3 618.1L616.6 623.7M622.0 623.4L616.6 623.7L619.9 619.4M645.5 618.1L634.6 623.5M640.1 623.3L634.6 623.5L638.0 619.2M663.6 618.1L653.8 622.7M658.7 622.7L653.8 622.7L656.9 619.0M681.8 618.1L671.8 621.8M676.6 622.2L671.8 621.8L675.2 618.4M700.0 618.1L690.4 620.7M694.8 621.5L690.4 620.7L693.8 617.8M718.2 618.1L708.4 619.8M712.7 621.0L708.4 619.8L712.0 617.3M736.4 618.1L726.4 619.0M730.7 620.5L726.4 619.0L730.3 616.7M754.5 618.1L743.9 618.7M748.4 620.5L743.9 618.7L748.1 616.5M772.7 618.1L762.1 618.4M766.5 620.3L762.1 618.4L766.4 616.3M790.9 618.1L780.3 618.1M784.6 620.1L780.3 618.1L784.6 616.1M9.1 636.3L3.5 651.8M8.7 646.5L3.5 651.8L2.8 644.4M27.3 636.3L21.6 651.8M26.9 646.5L21.6 651.8L21.0 644.4M45.5 636.3L40.0 651.3M45.1 646.2L40.0 651.3L39.4 644.1M63.6 636.3L58.2 651.3M63.3 646.2L58.2 651.3L57.6 644.1M81.8 636.3L76.4 651.3M81.4 646.2L76.4 651.3L75.7 644.1M100.0 636.3L94.3 651.5M99.5 646.4L94.3 651.5L93.7 644.2M118.2 636.3L112.3 651.1M117.5 646.2L112.3 651.1L111.9 644.0M136.4 636.3L130.6 650.5M135.6 645.8L130.6 650.5L130.2 643.6M154.5 636.3L148.8 649.8M153.7 645.4L148.8 649.8L148.6 643.2M172.7 636.3L166.9 649.4M171.8 645.1L166.9 649.4L166.8 642.9M190.9 636.3L185.2 648.5M189.9 644.6L185.2 648.5L185.2 642.5M209.1 636.3L203.4 647.9M207.9 644.2L203.4 647.9L203.5 642.1M227.3 636.3L221.7 647.3M226.0 643.9L221.7 647.3L221.9 641.7M245.5 636.3L239.7 646.2M243.9 643.3L239.7 646.2L240.1 641.1M263.6 636.3L257.3 645.9M261.7 643.2L257.3 645.9L258.1 640.8M281.8 636.3L275.3 645.0M279.6 642.7L275.3 645.0L276.3 640.2M300.0 636.3L293.0 644.7M297.4 642.6L293.0 644.7L294.3 639.9M318.2 636.3L310.4 642.9M314.8 641.7L310.4 642.9L312.3 638.7M336.4 636.3L327.5 641.4M332.1 641.0L327.5 641.4L330.1 637.6M354.5 636.3L345.6 639.5M349.8 639.9L345.6 639.5L348.6 636.5M372.7 636.3L363.3 638.0M367.5 639.1L363.3 638.0L366.8 635.5M390.9 636.3L382.1 636.9M385.8 638.3L382.1 636.9L385.6 635.0M409.1 636.3L400.9 636.0M404.2 637.7L400.9 636.0L404.3 634.5M427.3 636.3L419.2 635.1M422.2 637.1L419.2 635.1L422.7 634.0M445.5 636.3L438.2 634.4M440.8 636.5L438.2 634.4L441.5 633.8M463.6 636.3L456.4 634.4M459.0 636.5L456.4 634.4L459.7 633.8M481.8 636.3L474.6 634.4M477.2 636.5L474.6 634.4L477.9 633.8M500.0 636.3L492.6 637.4M495.8 638.4L492.6 637.4L495.4 635.5M518.2 636.3L510.6 640.9M514.5 640.4L510.6 640.9L512.8 637.6M536.4 636.3L527.3 642.4M532.1 641.6L527.3 642.4L529.8 638.2M554.5 636.3L545.3 643.1M550.4 642.1L545.3 643.1L547.8 638.6M572.7 636.3L563.4 643.0M568.5 642.0L563.4 643.0L565.9 638.5M590.9 636.3L582.0 642.6M586.8 641.7L582.0 642.6L584.4 638.3M609.1 636.3L600.0 642.4M604.9 641.6L600.0 642.4L602.6 638.2M627.3 636.3L617.6 642.5M622.7 641.8L617.6 642.5L620.4 638.1M645.5 636.3L635.6 642.3M640.8 641.7L635.6 642.3L638.5 638.0M663.6 636.3L654.2 641.8M659.1 641.3L654.2 641.8L657.0 637.7M681.8 636.3L671.4 641.0M676.5 641.1L671.4 641.0L674.7 637.1M700.0 636.3L689.1 640.0M694.3 640.6L689.1 640.0L692.9 636.4M718.2 636.3L707.0 638.9M712.1 640.0L707.0 638.9L711.1 635.7M736.4 636.3L725.0 637.8M729.9 639.4L725.0 637.8L729.3 635.0M754.5 636.3L743.1 637.3M748.0 639.1L743.1 637.3L747.6 634.7M772.7 636.3L761.3 636.8M766.0 638.8L761.3 636.8L765.8 634.4M790.9 636.3L779.4 636.3M784.1 638.5L779.4 636.3L784.1 634.1M9.1 654.5L3.2 670.6M8.7 665.1L3.2 670.6L2.5 662.9M27.3 654.5L21.6 670.0M26.9 664.7L21.6 670.0L21.0 662.6M45.5 654.5L40.0 669.5M45.1 664.4L40.0 669.5L39.4 662.3M63.6 654.5L58.2 669.5M63.3 664.4L58.2 669.5L57.6 662.3M81.8 654.5L76.4 669.5M81.4 664.4L76.4 669.5L75.7 662.3M100.0 654.5L94.3 669.6M99.5 664.5L94.3 669.6L93.7 662.4M118.2 654.5L112.3 669.3M117.5 664.4L112.3 669.3L111.9 662.2M136.4 654.5L130.6 668.7M135.6 664.0L130.6 668.7L130.2 661.8M154.5 654.5L148.8 668.0M153.7 663.6L148.8 668.0L148.6 661.4M172.7 654.5L166.9 667.5M171.8 663.3L166.9 667.5L166.8 661.1M190.9 654.5L185.2 666.7M189.9 662.8L185.2 666.7L185.2 660.6M209.1 654.5L203.4 666.1M207.9 662.4L203.4 666.1L203.5 660.3M227.3 654.5L221.7 665.5M226.0 662.1L221.7 665.5L221.9 659.9M245.5 654.5L239.5 665.0M243.9 661.8L239.5 665.0L239.9 659.5M263.6 654.5L257.5 664.2M261.8 661.4L257.5 664.2L258.1 659.0M281.8 654.5L275.5 663.4M279.8 661.0L275.5 663.4L276.4 658.6M300.0 654.5L293.3 663.1M297.7 660.8L293.3 663.1L294.4 658.3M318.2 654.5L310.7 661.5M315.1 660.0L310.7 661.5L312.4 657.2M336.4 654.5L327.8 660.1M332.4 659.4L327.8 660.1L330.2 656.2M354.5 654.5L345.8 658.4M350.1 658.4L345.8 658.4L348.6 655.1M372.7 654.5L364.2 656.8M368.1 657.5L364.2 656.8L367.2 654.2M390.9 654.5L382.9 656.1M386.5 657.0L382.9 656.1L385.9 653.9M409.1 654.5L401.6 655.5M404.9 656.5L401.6 655.5L404.5 653.6M427.3 654.5L419.8 655.0M422.9 656.2L419.8 655.0L422.7 653.3M445.5 654.5L438.6 654.5M441.4 655.8L438.6 654.5L441.4 653.2M463.6 654.5L456.8 654.5M459.6 655.8L456.8 654.5L459.6 653.2M481.8 654.5L475.0 654.5M477.8 655.8L475.0 654.5L477.8 653.2M500.0 654.5L492.8 656.7M496.2 657.2L492.8 656.7L495.3 654.5M518.2 654.5L511.5 659.2M515.1 658.5L511.5 659.2L513.3 656.0M536.4 654.5L529.1 660.6M533.2 659.5L529.1 660.6L530.9 656.7M554.5 654.5L547.3 661.7M551.6 660.1L547.3 661.7L548.9 657.4M572.7 654.5L565.2 661.4M569.6 660.0L565.2 661.4L566.9 657.1M590.9 654.5L583.6 660.6M587.7 659.5L583.6 660.6L585.4 656.7M609.1 654.5L602.2 660.0M606.1 659.1L602.2 660.0L603.9 656.5M627.3 654.5L619.7 660.3M623.9 659.4L619.7 660.3L621.7 656.5M645.5 654.5L637.2 660.5M641.7 659.6L637.2 660.5L639.4 656.5M663.6 654.5L655.3 660.3M659.8 659.5L655.3 660.3L657.6 656.4M681.8 654.5L672.3 659.7M677.2 659.4L672.3 659.7L675.2 655.8M700.0 654.5L689.9 658.7M694.8 658.9L689.9 658.7L693.2 655.0M718.2 654.5L707.7 657.5M712.6 658.3L707.7 657.5L711.4 654.3M736.4 654.5L726.3 656.3M730.7 657.4L726.3 656.3L730.1 653.6M754.5 654.5L744.4 655.7M748.8 657.1L744.4 655.7L748.3 653.3M772.7 654.5L762.5 655.1M766.8 656.8L762.5 655.1L766.6 652.9M790.9 654.5L780.7 654.5M784.9 656.4L780.7 654.5L784.9 652.5M9.1 672.7L3.0 689.4M8.7 683.8L3.0 689.4L2.3 681.4M27.3 672.7L21.4 688.8M26.9 683.3L21.4 688.8L20.7 681.1M45.5 672.7L40.0 687.6M45.1 682.6L40.0 687.6L39.4 680.5M63.6 672.7L58.2 687.6M63.3 682.6L58.2 687.6L57.6 680.5M81.8 672.7L76.4 687.6M81.4 682.6L76.4 687.6L75.7 680.5M100.0 672.7L94.3 687.8M99.5 682.7L94.3 687.8L93.7 680.5M118.2 672.7L112.3 687.5M117.5 682.6L112.3 687.5L111.9 680.3M136.4 672.7L130.6 686.8M135.6 682.2L130.6 686.8L130.2 680.0M154.5 672.7L148.8 686.2M153.7 681.8L148.8 686.2L148.6 679.6M172.7 672.7L166.9 685.7M171.8 681.5L166.9 685.7L166.8 679.3M190.9 672.7L185.2 684.9M189.9 681.0L185.2 684.9L185.2 678.8M209.1 672.7L203.4 684.3M207.9 680.6L203.4 684.3L203.5 678.5M227.3 672.7L221.7 683.7M226.0 680.2L221.7 683.7L221.9 678.1M245.5 672.7L239.5 683.1M243.9 680.0L239.5 683.1L239.9 677.7M263.6 672.7L257.5 682.4M261.9 679.6L257.5 682.4L258.2 677.2M281.8 672.7L275.3 682.1M279.7 679.5L275.3 682.1L276.1 677.0M300.0 672.7L293.4 681.3M297.7 679.0L293.4 681.3L294.4 676.5M318.2 672.7L311.0 679.9M315.3 678.3L311.0 679.9L312.5 675.6M336.4 672.7L328.3 678.9M332.7 677.9L328.3 678.9L330.4 674.8M354.5 672.7L346.3 677.4M350.6 677.1L346.3 677.4L348.7 673.9M372.7 672.7L365.2 675.8M368.8 676.0L365.2 675.8L367.7 673.1M390.9 672.7L383.8 675.2M387.2 675.5L383.8 675.2L386.2 672.8M409.1 672.7L402.5 674.6M405.6 675.0L402.5 674.6L404.8 672.5M427.3 672.7L421.4 674.0M424.0 674.6L421.4 674.0L423.5 672.4M445.5 672.7L438.7 673.8M441.7 674.6L438.7 673.8L441.2 672.1M463.6 672.7L456.2 673.6M459.4 674.7L456.2 673.6L459.0 671.8M481.8 672.7L474.3 673.3M477.5 674.5L474.3 673.3L477.3 671.6M500.0 672.7L493.3 676.0M496.6 675.9L493.3 676.0L495.4 673.3M518.2 672.7L512.7 678.7M516.1 677.3L512.7 678.7L513.8 675.2M536.4 672.7L531.4 680.0M534.8 678.0L531.4 680.0L532.0 676.1M554.5 672.7L550.8 680.7M553.9 678.1L550.8 680.7L550.8 676.7M572.7 672.7L568.1 680.2M571.4 678.0L568.1 680.2L568.6 676.3M590.9 672.7L585.5 679.7M589.0 677.9L585.5 679.7L586.4 675.8M609.1 672.7L602.8 679.8M606.7 678.1L602.8 679.8L604.0 675.7M627.3 672.7L620.0 679.8M624.3 678.3L620.0 679.8L621.6 675.5M645.5 672.7L637.2 679.7M641.9 678.4L637.2 679.7L639.2 675.3M663.6 672.7L654.9 679.1M659.7 678.2L654.9 679.1L657.2 674.8M681.8 672.7L672.4 678.1M677.3 677.7L672.4 678.1L675.2 674.1M700.0 672.7L690.6 676.7M695.2 676.8L690.6 676.7L693.7 673.3M718.2 672.7L708.4 675.6M712.9 676.2L708.4 675.6L711.8 672.5M736.4 672.7L727.0 674.3M731.1 675.4L727.0 674.3L730.5 671.9M754.5 672.7L745.1 673.8M749.2 675.2L745.1 673.8L748.7 671.6M772.7 672.7L763.2 673.3M767.2 674.9L763.2 673.3L767.0 671.2M790.9 672.7L781.4 672.8M785.3 674.6L781.4 672.8L785.2 670.9M9.1 690.8L2.8 708.2M8.6 702.4L2.8 708.2L2.0 699.9M27.3 690.8L21.4 707.0M26.9 701.5L21.4 707.0L20.7 699.3M45.5 690.8L40.0 705.8M45.1 700.7L40.0 705.8L39.4 698.7M63.6 690.8L58.2 705.8M63.3 700.7L58.2 705.8L57.6 698.7M81.8 690.8L76.4 705.8M81.4 700.7L76.4 705.8L75.7 698.7M100.0 690.8L94.3 706.0M99.5 700.9L94.3 706.0L93.7 698.7M118.2 690.8L112.3 705.7M117.5 700.7L112.3 705.7L111.9 698.5M136.4 690.8L130.6 705.0M135.6 700.3L130.6 705.0L130.2 698.1M154.5 690.8L148.8 704.4M153.7 700.0L148.8 704.4L148.6 697.8M172.7 690.8L166.9 703.9M171.8 699.7L166.9 703.9L166.8 697.5M190.9 690.8L185.1 703.3M189.8 699.3L185.1 703.3L185.1 697.1M209.1 690.8L203.2 702.9M207.9 699.1L203.2 702.9L203.3 696.9M227.3 690.8L221.4 702.3M226.0 698.7L221.4 702.3L221.6 696.5M245.5 690.8L239.5 701.3M243.9 698.2L239.5 701.3L239.9 695.9M263.6 690.8L257.6 700.6M261.9 697.8L257.6 700.6L258.2 695.5M281.8 690.8L275.3 700.3M279.8 697.7L275.3 700.3L276.2 695.2M300.0 690.8L293.4 699.6M297.8 697.2L293.4 699.6L294.5 694.8M318.2 690.8L311.2 698.4M315.5 696.6L311.2 698.4L312.6 694.0M336.4 690.8L329.2 697.2M333.3 695.9L329.2 697.2L330.9 693.2M354.5 690.8L347.3 696.0M351.3 695.3L347.3 696.0L349.3 692.5M372.7 690.8L366.2 694.6M369.6 694.3L366.2 694.6L368.2 691.8M390.9 690.8L384.9 694.0M387.9 693.9L384.9 694.0L386.7 691.6M409.1 690.8L402.9 693.7M406.0 693.7L402.9 693.7L404.9 691.4M427.3 690.8L421.0 693.5M424.0 693.6L421.0 693.5L423.0 691.2M445.5 690.8L438.4 693.4M441.8 693.7L438.4 693.4L440.8 691.0M463.6 690.8L455.7 693.0M459.4 693.6L455.7 693.0L458.6 690.6M481.8 690.8L474.4 692.1M477.7 693.0L474.4 692.1L477.2 690.2M500.0 690.8L494.4 694.8M497.4 694.2L494.4 694.8L495.9 692.1M518.2 690.8L514.8 696.8M517.3 695.0L514.8 696.8L515.0 693.7M536.4 690.8L534.1 698.0M536.4 695.5L534.1 698.0L533.7 694.7M554.5 690.8L553.8 699.0M555.7 695.8L553.8 699.0L552.6 695.5M572.7 690.8L570.4 699.4M573.0 696.4L570.4 699.4L569.7 695.5M590.9 690.8L586.9 699.5M590.2 696.7L586.9 699.5L586.9 695.2M609.1 690.8L603.7 699.5M607.6 697.0L603.7 699.5L604.3 695.0M627.3 690.8L620.1 699.8M624.7 697.5L620.1 699.8L621.3 694.8M645.5 690.8L637.3 698.9M642.2 697.2L637.3 698.9L639.1 694.1M663.6 690.8L654.6 697.9M659.6 696.8L654.6 697.9L656.9 693.3M681.8 690.8L672.5 696.5M677.4 696.0L672.5 696.5L675.2 692.4M700.0 690.8L691.3 694.7M695.6 694.8L691.3 694.7L694.1 691.5M718.2 690.8L709.7 693.4M713.6 694.0L709.7 693.4L712.7 690.8M736.4 690.8L728.3 692.3M731.9 693.2L728.3 692.3L731.3 690.2M754.5 690.8L746.4 691.9M749.9 693.0L746.4 691.9L749.5 689.9M772.7 690.8L765.2 691.5M768.4 692.6L765.2 691.5L768.2 689.8M790.9 690.8L784.1 691.1M786.9 692.3L784.1 691.1L786.8 689.7M9.1 709.0L2.8 726.4M8.6 720.5L2.8 726.4L2.0 718.1M27.3 709.0L21.2 725.8M26.8 720.1L21.2 725.8L20.5 717.8M45.5 709.0L39.6 725.0M45.0 719.6L39.6 725.0L39.0 717.4M63.6 709.0L57.8 725.0M63.2 719.6L57.8 725.0L57.1 717.4M81.8 709.0L76.0 725.0M81.4 719.6L76.0 725.0L75.3 717.4M100.0 709.0L94.1 724.6M99.5 719.3L94.1 724.6L93.6 717.1M118.2 709.0L112.2 724.2M117.5 719.2L112.2 724.2L111.7 716.9M136.4 709.0L130.6 723.2M135.6 718.5L130.6 723.2L130.2 716.3M154.5 709.0L148.8 722.6M153.7 718.1L148.8 722.6L148.6 716.0M172.7 709.0L166.9 722.1M171.8 717.9L166.9 722.1L166.8 715.7M190.9 709.0L185.1 721.5M189.8 717.5L185.1 721.5L185.1 715.3M209.1 709.0L203.4 720.8M207.9 717.1L203.4 720.8L203.5 714.9M227.3 709.0L221.4 720.5M226.0 716.9L221.4 720.5L221.6 714.7M245.5 709.0L239.6 719.5M244.0 716.4L239.6 719.5L240.0 714.1M263.6 709.0L257.3 719.3M261.9 716.3L257.3 719.3L257.9 713.9M281.8 709.0L275.4 718.6M279.9 715.9L275.4 718.6L276.2 713.5M300.0 709.0L293.6 717.8M297.9 715.5L293.6 717.8L294.5 713.0M318.2 709.0L311.6 716.8M315.8 714.9L311.6 716.8L312.8 712.4M336.4 709.0L329.7 715.9M333.7 714.3L329.7 715.9L331.1 711.8M354.5 709.0L348.4 714.5M352.0 713.4L348.4 714.5L349.9 711.1M372.7 709.0L366.8 713.6M370.1 712.9L366.8 713.6L368.3 710.6M390.9 709.0L384.8 713.4M388.1 712.8L384.8 713.4L386.5 710.5M409.1 709.0L402.9 713.3M406.2 712.7L402.9 713.3L404.6 710.3M427.3 709.0L421.0 713.1M424.3 712.6L421.0 713.1L422.8 710.2M445.5 709.0L438.4 713.2M442.1 712.9L438.4 713.2L440.5 710.2M463.6 709.0L456.4 712.9M460.1 712.7L456.4 712.9L458.6 710.0M481.8 709.0L475.1 712.3M478.4 712.3L475.1 712.3L477.2 709.7M500.0 709.0L495.2 713.9M498.1 712.8L495.2 713.9L496.3 711.0M518.2 709.0L515.3 715.2M517.6 713.2L515.3 715.2L515.3 712.1M536.4 709.0L534.4 717.0M536.7 714.1L534.4 717.0L533.7 713.4M554.5 709.0L554.2 717.9M556.0 714.3L554.2 717.9L552.6 714.2M572.7 709.0L570.9 718.4M573.4 714.9L570.9 718.4L569.8 714.2M590.9 709.0L587.2 719.3M590.6 715.8L587.2 719.3L586.8 714.4M609.1 709.0L603.5 719.7M607.8 716.4L603.5 719.7L603.7 714.3M627.3 709.0L619.9 719.2M624.8 716.5L619.9 719.2L621.0 713.6M645.5 709.0L636.7 718.0M642.0 716.0L636.7 718.0L638.6 712.7M663.6 709.0L654.1 716.5M659.4 715.2L654.1 716.5L656.6 711.6M681.8 709.0L672.0 715.1M677.2 714.5L672.0 715.1L674.9 710.7M700.0 709.0L690.8 713.4M695.4 713.4L690.8 713.4L693.7 709.9M718.2 709.0L709.1 712.1M713.4 712.6L709.1 712.1L712.2 709.1M736.4 709.0L727.7 710.9M731.6 711.8L727.7 710.9L730.9 708.5M754.5 709.0L746.5 710.4M750.0 711.4L746.5 710.4L749.5 708.3M772.7 709.0L765.9 709.8M768.9 710.8L765.9 709.8L768.6 708.2M790.9 709.0L784.8 709.4M787.4 710.4L784.8 709.4L787.2 708.1M9.1 727.2L2.8 744.6M8.6 738.7L2.8 744.6L2.0 736.3M27.3 727.2L21.2 744.0M26.8 738.3L21.2 744.0L20.5 736.0M45.5 727.2L39.6 743.2M45.0 737.8L39.6 743.2L39.0 735.6M63.6 727.2L57.8 743.2M63.2 737.8L57.8 743.2L57.1 735.6M81.8 727.2L76.0 743.2M81.4 737.8L76.0 743.2L75.3 735.6M100.0 727.2L94.1 742.7M99.5 737.5L94.1 742.7L93.6 735.3M118.2 727.2L112.2 742.4M117.5 737.4L112.2 742.4L111.7 735.1M136.4 727.2L130.6 741.4M135.6 736.7L130.6 741.4L130.2 734.5M154.5 727.2L148.8 740.8M153.7 736.3L148.8 740.8L148.6 734.1M172.7 727.2L166.6 740.9M171.7 736.5L166.6 740.9L166.5 734.2M190.9 727.2L184.8 740.3M189.8 736.1L184.8 740.3L184.8 733.8M209.1 727.2L203.1 739.6M207.9 735.7L203.1 739.6L203.2 733.4M227.3 727.2L221.4 738.7M226.0 735.1L221.4 738.7L221.6 732.9M245.5 727.2L239.6 737.8M244.0 734.6L239.6 737.8L240.0 732.3M263.6 727.2L257.4 737.5M261.9 734.5L257.4 737.5L258.0 732.1M281.8 727.2L275.6 736.8M279.9 734.1L275.6 736.8L276.3 731.7M300.0 727.2L293.7 736.1M298.0 733.7L293.7 736.1L294.6 731.3M318.2 727.2L312.0 735.3M316.0 733.2L312.0 735.3L313.0 730.8M336.4 727.2L330.2 734.5M334.1 732.7L330.2 734.5L331.3 730.4M354.5 727.2L349.0 733.2M352.4 731.8L349.0 733.2L350.1 729.7M372.7 727.2L367.4 732.5M370.6 731.4L367.4 732.5L368.6 729.3M390.9 727.2L385.5 732.4M388.7 731.3L385.5 732.4L386.7 729.3M409.1 727.2L403.2 732.8M406.6 731.7L403.2 732.8L404.5 729.4M427.3 727.2L421.3 732.8M424.8 731.6L421.3 732.8L422.7 729.4M445.5 727.2L439.4 732.7M442.9 731.6L439.4 732.7L440.8 729.3M463.6 727.2L457.6 732.7M461.1 731.6L457.6 732.7L459.0 729.3M481.8 727.2L476.2 732.2M479.5 731.2L476.2 732.2L477.6 729.1M500.0 727.2L496.2 732.9M498.8 731.3L496.2 732.9L496.7 729.8M518.2 727.2L515.6 734.3M518.0 731.9L515.6 734.3L515.3 730.9M536.4 727.2L534.8 735.9M537.1 732.7L534.8 735.9L533.8 732.1M554.5 727.2L554.5 737.4M556.5 733.3L554.5 737.4L552.6 733.3M572.7 727.2L571.2 738.6M574.0 734.2L571.2 738.6L569.7 733.7M590.9 727.2L587.8 738.9M591.3 734.7L587.8 738.9L586.8 733.5M609.1 727.2L604.2 738.2M608.3 734.7L604.2 738.2L604.1 732.8M627.3 727.2L620.6 737.3M625.2 734.4L620.6 737.3L621.4 731.9M645.5 727.2L637.2 736.0M642.3 734.0L637.2 736.0L638.9 730.9M663.6 727.2L654.1 734.6M659.4 733.4L654.1 734.6L656.6 729.8M681.8 727.2L672.1 733.3M677.2 732.7L672.1 733.3L674.9 729.0M700.0 727.2L690.2 732.1M695.1 731.9L690.2 732.1L693.3 728.2M718.2 727.2L709.3 730.6M713.5 730.9L709.3 730.6L712.3 727.5M736.4 727.2L727.8 729.5M731.7 730.2L727.8 729.5L730.9 726.9M754.5 727.2L746.5 728.9M750.1 729.7L746.5 728.9L749.5 726.7M772.7 727.2L766.0 728.2M768.9 729.1L766.0 728.2L768.5 726.5M790.9 727.2L784.9 727.7M787.4 728.7L784.9 727.7L787.2 726.4M9.1 745.4L2.8 762.8M8.6 756.9L2.8 762.8L2.0 754.5M27.3 745.4L21.2 762.2M26.8 756.5L21.2 762.2L20.5 754.2M45.5 745.4L39.6 761.4M45.0 756.0L39.6 761.4L39.0 753.8M63.6 745.4L57.8 761.4M63.2 756.0L57.8 761.4L57.1 753.8M81.8 745.4L76.0 761.4M81.4 756.0L76.0 761.4L75.3 753.8M100.0 745.4L93.9 761.6M99.4 756.1L93.9 761.6L93.3 753.8M118.2 745.4L112.2 760.6M117.5 755.5L112.2 760.6L111.7 753.3M136.4 745.4L130.6 759.6M135.6 754.9L130.6 759.6L130.2 752.7M154.5 745.4L148.5 759.6M153.7 754.9L148.5 759.6L148.3 752.6M172.7 745.4L166.6 759.1M171.7 754.7L166.6 759.1L166.5 752.3M190.9 745.4L184.8 758.5M189.8 754.3L184.8 758.5L184.8 752.0M209.1 745.4L203.1 757.8M207.9 753.9L203.1 757.8L203.2 751.6M227.3 745.4L221.2 757.3M225.9 753.6L221.2 757.3L221.4 751.3M245.5 745.4L239.6 755.9M244.0 752.7L239.6 755.9L240.0 750.5M263.6 745.4L257.4 755.7M261.9 752.7L257.4 755.7L258.0 750.3M281.8 745.4L275.6 755.0M279.9 752.3L275.6 755.0L276.3 749.9M300.0 745.4L293.7 754.3M298.0 751.9L293.7 754.3L294.6 749.5M318.2 745.4L312.0 753.5M316.1 751.4L312.0 753.5L313.0 749.0M336.4 745.4L330.3 752.8M334.2 750.9L330.3 752.8L331.4 748.6M354.5 745.4L348.7 752.0M352.3 750.4L348.7 752.0L349.8 748.2M372.7 745.4L367.1 751.3M370.5 750.0L367.1 751.3L368.3 747.8M390.9 745.4L385.2 751.3M388.6 749.9L385.2 751.3L386.4 747.8M409.1 745.4L402.8 751.7M406.6 750.3L402.8 751.7L404.2 747.9M427.3 745.4L420.9 751.6M424.7 750.3L420.9 751.6L422.3 747.8M445.5 745.4L439.0 751.5M442.8 750.2L439.0 751.5L440.5 747.8M463.6 745.4L457.2 751.5M461.0 750.2L457.2 751.5L458.7 747.8M481.8 745.4L475.4 751.5M479.2 750.2L475.4 751.5L476.8 747.8M500.0 745.4L494.4 752.2M498.0 750.5L494.4 752.2L495.4 748.4M518.2 745.4L513.1 753.4M516.7 751.1L513.1 753.4L513.6 749.2M536.4 745.4L531.6 754.4M535.3 751.7L531.6 754.4L531.8 749.9M554.5 745.4L550.2 756.0M554.0 752.5L550.2 756.0L549.9 750.8M572.7 745.4L567.4 756.2M571.6 752.8L567.4 756.2L567.5 750.8M590.9 745.4L584.9 755.8M589.3 752.7L584.9 755.8L585.4 750.4M609.1 745.4L602.4 754.7M606.9 752.2L602.4 754.7L603.4 749.6M627.3 745.4L619.7 754.0M624.4 751.9L619.7 754.0L621.2 749.1M645.5 745.4L637.1 753.3M642.0 751.6L637.1 753.3L639.0 748.5M663.6 745.4L654.6 752.5M659.6 751.3L654.6 752.5L656.9 747.9M681.8 745.4L672.7 751.3M677.5 750.6L672.7 751.3L675.3 747.2M700.0 745.4L691.0 750.2M695.5 749.9L691.0 750.2L693.7 746.5M718.2 745.4L709.4 749.1M713.7 749.2L709.4 749.1L712.3 745.9M736.4 745.4L727.9 748.1M731.9 748.6L727.9 748.1L730.8 745.4M754.5 745.4L746.6 747.4M750.2 748.1L746.6 747.4L749.5 745.1M772.7 745.4L766.0 746.7M769.0 747.4L766.0 746.7L768.5 744.9M790.9 745.4L784.9 746.2M787.5 747.0L784.9 746.2L787.2 744.7M9.1 763.6L2.8 781.0M8.6 775.1L2.8 781.0L2.0 772.7M27.3 763.6L21.2 780.3M26.8 774.7L21.2 780.3L20.5 772.3M45.5 763.6L39.6 779.6M45.0 774.2L39.6 779.6L39.0 771.9M63.6 763.6L57.8 779.6M63.2 774.2L57.8 779.6L57.1 771.9M81.8 763.6L76.0 779.6M81.4 774.2L76.0 779.6L75.3 771.9M100.0 763.6L93.9 779.7M99.4 774.3L93.9 779.7L93.3 772.0M118.2 763.6L112.2 778.8M117.5 773.7L112.2 778.8L111.7 771.4M136.4 763.6L130.6 777.8M135.6 773.1L130.6 777.8L130.2 770.9M154.5 763.6L148.5 777.7M153.7 773.1L148.5 777.7L148.3 770.8M172.7 763.6L166.6 777.3M171.7 772.8L166.6 777.3L166.5 770.5M190.9 763.6L184.8 776.7M189.8 772.5L184.8 776.7L184.8 770.2M209.1 763.6L203.1 775.9M207.9 772.0L203.1 775.9L203.2 769.7M227.3 763.6L221.2 775.5M225.9 771.8L221.2 775.5L221.4 769.5M245.5 763.6L239.4 774.6M243.9 771.2L239.4 774.6L239.8 768.9M263.6 763.6L257.4 773.9M261.9 770.9L257.4 773.9L258.0 768.5M281.8 763.6L275.6 773.2M279.9 770.5L275.6 773.2L276.3 768.1M300.0 763.6L293.7 772.5M298.0 770.1L293.7 772.5L294.6 767.7M318.2 763.6L311.7 772.3M316.0 770.0L311.7 772.3L312.7 767.5M336.4 763.6L330.0 771.6M334.1 769.5L330.0 771.6L331.1 767.1M354.5 763.6L348.4 770.9M352.3 769.1L348.4 770.9L349.5 766.7M372.7 763.6L366.3 770.7M370.3 769.0L366.3 770.7L367.6 766.6M390.9 763.6L384.4 770.6M388.4 769.0L384.4 770.6L385.7 766.5M409.1 763.6L402.5 770.5M406.5 768.9L402.5 770.5L403.9 766.4M427.3 763.6L420.6 770.4M424.6 768.9L420.6 770.4L422.0 766.4M445.5 763.6L438.7 770.3M442.7 768.9L438.7 770.3L440.2 766.3M463.6 763.6L456.9 770.3M460.9 768.9L456.9 770.3L458.4 766.3M481.8 763.6L475.1 770.3M479.1 768.9L475.1 770.3L476.5 766.3M500.0 763.6L493.2 770.3M497.3 768.9L493.2 770.3L494.7 766.3M518.2 763.6L511.0 770.8M515.3 769.2L511.0 770.8L512.5 766.5M536.4 763.6L528.7 771.3M533.3 769.6L528.7 771.3L530.3 766.7M554.5 763.6L546.4 771.7M551.3 769.9L546.4 771.7L548.2 766.8M572.7 763.6L564.6 771.7M569.5 769.9L564.6 771.7L566.4 766.8M590.9 763.6L582.8 771.7M587.6 769.9L582.8 771.7L584.6 766.8M609.1 763.6L601.1 771.0M605.8 769.5L601.1 771.0L603.0 766.5M627.3 763.6L619.1 770.8M623.8 769.4L619.1 770.8L621.1 766.3M645.5 763.6L637.1 770.5M641.8 769.3L637.1 770.5L639.2 766.1M663.6 763.6L655.0 770.3M659.8 769.2L655.0 770.3L657.3 765.9M681.8 763.6L673.3 769.2M677.8 768.5L673.3 769.2L675.7 765.3M700.0 763.6L691.7 768.2M695.9 767.9L691.7 768.2L694.2 764.7M718.2 763.6L710.1 767.2M714.1 767.3L710.1 767.2L712.7 764.2M736.4 763.6L728.7 766.4M732.3 766.7L728.7 766.4L731.3 763.8M754.5 763.6L747.4 765.7M750.7 766.2L747.4 765.7L749.9 763.5M772.7 763.6L766.1 765.1M769.1 765.8L766.1 765.1L768.5 763.2M790.9 763.6L784.9 764.6M787.6 765.3L784.9 764.6L787.2 763.1"/>
<g stroke="#808080" stroke-width="1" shape-rendering="crispEdges">
<line x1="9.5" y1="28" x2="9.5" y2="772"/><line x1="81.5" y1="28" x2="81.5" y2="772"/><line x1="154.5" y1="28" x2="154.5" y2="772"/><line x1="227.5" y1="28" x2="227.5" y2="772"/><line x1="299.5" y1="28" x2="299.5" y2="772"/><line x1="372.5" y1="28" x2="372.5" y2="772"/><line x1="445.5" y1="28" x2="445.5" y2="772"/><line x1="518.5" y1="28" x2="518.5" y2="772"/><line x1="590.5" y1="28" x2="590.5" y2="772"/><line x1="663.5" y1="28" x2="663.5" y2="772"/><line x1="736.5" y1="28" x2="736.5" y2="772"/><line x1="0" y1="36.5" x2="800" y2="36.5"/><line x1="0" y1="109.5" x2="800" y2="109.5"/><line x1="0" y1="181.5" x2="800" y2="181.5"/><line x1="0" y1="254.5" x2="800" y2="254.5"/><line x1="0" y1="327.5" x2="800" y2="327.5"/><line x1="0" y1="399.5" x2="800" y2="399.5"/><line x1="0" y1="472.5" x2="800" y2="472.5"/><line x1="0" y1="545.5" x2="800" y2="545.5"/><line x1="0" y1="618.5" x2="800" y2="618.5"/><line x1="0" y1="690.5" x2="800" y2="690.5"/><line x1="0" y1="763.5" x2="800" y2="763.5"/></g>
<path fill="none" stroke="#000" stroke-width="1" shape-rendering="crispEdges" d="M0 27.5H800M0.5 27V772M9.5 28v17M9.5 773v-17M16.5 28v5M16.5 773v-5M23.5 28v5M23.5 773v-5M30.5 28v5M30.5 773v-5M38.5 28v5M38.5 773v-5M45.5 28v9M45.5 773v-10M52.5 28v5M52.5 773v-5M59.5 28v5M59.5 773v-5M67.5 28v5M67.5 773v-5M74.5 28v5M74.5 773v-5M81.5 28v17M81.5 773v-17M89.5 28v5M89.5 773v-5M96.5 28v5M96.5 773v-5M103.5 28v5M103.5 773v-5M110.5 28v5M110.5 773v-5M118.5 28v9M118.5 773v-10M125.5 28v5M125.5 773v-5M132.5 28v5M132.5 773v-5M139.5 28v5M139.5 773v-5M147.5 28v5M147.5 773v-5M154.5 28v17M154.5 773v-17M161.5 28v5M161.5 773v-5M169.5 28v5M169.5 773v-5M176.5 28v5M176.5 773v-5M183.5 28v5M183.5 773v-5M190.5 28v9M190.5 773v-10M198.5 28v5M198.5 773v-5M205.5 28v5M205.5 773v-5M212.5 28v5M212.5 773v-5M219.5 28v5M219.5 773v-5M227.5 28v17M227.5 773v-17M234.5 28v5M234.5 773v-5M241.5 28v5M241.5 773v-5M249.5 28v5M249.5 773v-5M256.5 28v5M256.5 773v-5M263.5 28v9M263.5 773v-10M270.5 28v5M270.5 773v-5M278.5 28v5M278.5 773v-5M285.5 28v5M285.5 773v-5M292.5 28v5M292.5 773v-5M299.5 28v17M299.5 773v-17M307.5 28v5M307.5 773v-5M314.5 28v5M314.5 773v-5M321.5 28v5M321.5 773v-5M329.5 28v5M329.5 773v-5M336.5 28v9M336.5 773v-10M343.5 28v5M343.5 773v-5M350.5 28v5M350.5 773v-5M358.5 28v5M358.5 773v-5M365.5 28v5M365.5 773v-5M372.5 28v17M372.5 773v-17M379.5 28v5M379.5 773v-5M387.5 28v5M387.5 773v-5M394.5 28v5M394.5 773v-5M401.5 28v5M401.5 773v-5M409.5 28v9M409.5 773v-10M416.5 28v5M416.5 773v-5M423.5 28v5M423.5 773v-5M430.5 28v5M430.5 773v-5M438.5 28v5M438.5 773v-5M445.5 28v17M445.5 773v-17M452.5 28v5M452.5 773v-5M459.5 28v5M459.5 773v-5M467.5 28v5M467.5 773v-5M474.5 28v5M474.5 773v-5M481.5 28v9M481.5 773v-10M489.5 28v5M489.5 773v-5M496.5 28v5M496.5 773v-5M503.5 28v5M503.5 773v-5M510.5 28v5M510.5 773v-5M518.5 28v17M518.5 773v-17M525.5 28v5M525.5 773v-5M532.5 28v5M532.5 773v-5M539.5 28v5M539.5 773v-5M547.5 28v5M547.5 773v-5M554.5 28v9M554.5 773v-10M561.5 28v5M561.5 773v-5M569.5 28v5M569.5 773v-5M576.5 28v5M576.5 773v-5M583.5 28v5M583.5 773v-5M590.5 28v17M590.5 773v-17M598.5 28v5M598.5 773v-5M605.5 28v5M605.5 773v-5M612.5 28v5M612.5 773v-5M619.5 28v5M619.5 773v-5M627.5 28v9M627.5 773v-10M634.5 28v5M634.5 773v-5M641.5 28v5M641.5 773v-5M649.5 28v5M649.5 773v-5M656.5 28v5M656.5 773v-5M663.5 28v17M663.5 773v-17M670.5 28v5M670.5 773v-5M678.5 28v5M678.5 773v-5M685.5 28v5M685.5 773v-5M692.5 28v5M692.5 773v-5M699.5 28v9M699.5 773v-10M707.5 28v5M707.5 773v-5M714.5 28v5M714.5 773v-5M721.5 28v5M721.5 773v-5M729.5 28v5M729.5 773v-5M736.5 28v17M736.5 773v-17M743.5 28v5M743.5 773v-5M750.5 28v5M750.5 773v-5M758.5 28v5M758.5 773v-5M765.5 28v5M765.5 773v-5M772.5 28v9M772.5 773v-10M779.5 28v5M779.5 773v-5M787.5 28v5M787.5 773v-5M794.5 28v5M794.5 773v-5M1.5 28v4M1.5 773v-5M0 29.5h4M800 29.5h-5M0 36.5h18M800 36.5h-18M0 43.5h4M800 43.5h-5M0 50.5h4M800 50.5h-5M0 58.5h4M800 58.5h-5M0 65.5h4M800 65.5h-5M0 72.5h9M800 72.5h-9M0 79.5h4M800 79.5h-5M0 87.5h4M800 87.5h-5M0 94.5h4M800 94.5h-5M0 101.5h4M800 101.5h-5M0 109.5h18M800 109.5h-18M0 116.5h4M800 116.5h-5M0 123.5h4M800 123.5h-5M0 130.5h4M800 130.5h-5M0 138.5h4M800 138.5h-5M0 145.5h9M800 145.5h-9M0 152.5h4M800 152.5h-5M0 159.5h4M800 159.5h-5M0 167.5h4M800 167.5h-5M0 174.5h4M800 174.5h-5M0 181.5h18M800 181.5h-18M0 189.5h4M800 189.5h-5M0 196.5h4M800 196.5h-5M0 203.5h4M800 203.5h-5M0 210.5h4M800 210.5h-5M0 218.5h9M800 218.5h-9M0 225.5h4M800 225.5h-5M0 232.5h4M800 232.5h-5M0 239.5h4M800 239.5h-5M0 247.5h4M800 247.5h-5M0 254.5h18M800 254.5h-18M0 261.5h4M800 261.5h-5M0 269.5h4M800 269.5h-5M0 276.5h4M800 276.5h-5M0 283.5h4M800 283.5h-5M0 290.5h9M800 290.5h-9M0 298.5h4M800 298.5h-5M0 305.5h4M800 305.5h-5M0 312.5h4M800 312.5h-5M0 319.5h4M800 319.5h-5M0 327.5h18M800 327.5h-18M0 334.5h4M800 334.5h-5M0 341.5h4M800 341.5h-5M0 349.5h4M800 349.5h-5M0 356.5h4M800 356.5h-5M0 363.5h9M800 363.5h-9M0 370.5h4M800 370.5h-5M0 378.5h4M800 378.5h-5M0 385.5h4M800 385.5h-5M0 392.5h4M800 392.5h-5M0 399.5h18M800 399.5h-18M0 407.5h4M800 407.5h-5M0 414.5h4M800 414.5h-5M0 421.5h4M800 421.5h-5M0 429.5h4M800 429.5h-5M0 436.5h9M800 436.5h-9M0 443.5h4M800 443.5h-5M0 450.5h4M800 450.5h-5M0 458.5h4M800 458.5h-5M0 465.5h4M800 465.5h-5M0 472.5h18M800 472.5h-18M0 479.5h4M800 479.5h-5M0 487.5h4M800 487.5h-5M0 494.5h4M800 494.5h-5M0 501.5h4M800 501.5h-5M0 509.5h9M800 509.5h-9M0 516.5h4M800 516.5h-5M0 523.5h4M800 523.5h-5M0 530.5h4M800 530.5h-5M0 538.5h4M800 538.5h-5M0 545.5h18M800 545.5h-18M0 552.5h4M800 552.5h-5M0 559.5h4M800 559.5h-5M0 567.5h4M800 567.5h-5M0 574.5h4M800 574.5h-5M0 581.5h9M800 581.5h-9M0 589.5h4M800 589.5h-5M0 596.5h4M800 596.5h-5M0 603.5h4M800 603.5h-5M0 610.5h4M800 610.5h-5M0 618.5h18M800 618.5h-18M0 625.5h4M800 625.5h-5M0 632.5h4M800 632.5h-5M0 639.5h4M800 639.5h-5M0 647.5h4M800 647.5h-5M0 654.5h9M800 654.5h-9M0 661.5h4M800 661.5h-5M0 669.5h4M800 669.5h-5M0 676.5h4M800 676.5h-5M0 683.5h4M800 683.5h-5M0 690.5h18M800 690.5h-18M0 698.5h4M800 698.5h-5M0 705.5h4M800 705.5h-5M0 712.5h4M800 712.5h-5M0 719.5h4M800 719.5h-5M0 727.5h9M800 727.5h-9M0 734.5h4M800 734.5h-5M0 741.5h4M800 741.5h-5M0 749.5h4M800 749.5h-5M0 756.5h4M800 756.5h-5M0 763.5h18M800 763.5h-18M0 770.5h4M800 770.5h-5"/>
<g fill="#808080" font-weight="bold" font-size="24.5px">
<text y="49.5" xml:space="preserve"><tspan x="4.11" textLength="108.75" lengthAdjust="spacingAndGlyphs">modelo</tspan> <tspan x="118.26" textLength="164.62" lengthAdjust="spacingAndGlyphs">GEFS-WAVE</tspan> <tspan x="294.15" textLength="95.41" lengthAdjust="spacingAndGlyphs">(NCEP)</tspan></text>
<text y="72.0" xml:space="preserve"><tspan x="5.75" textLength="114.40" lengthAdjust="spacingAndGlyphs">forecast</tspan> <tspan x="130.17" textLength="70.98" lengthAdjust="spacingAndGlyphs">date:</tspan> <tspan x="212.60" textLength="156.81" lengthAdjust="spacingAndGlyphs">2023-07-23</tspan> <tspan x="377.67" textLength="123.01" lengthAdjust="spacingAndGlyphs">18:00:00</tspan></text>
<text y="95.0" xml:space="preserve"><tspan x="41.59" textLength="68.50" lengthAdjust="spacingAndGlyphs">valid</tspan> <tspan x="118.85" textLength="75.20" lengthAdjust="spacingAndGlyphs">date:</tspan> <tspan x="201.85" textLength="156.87" lengthAdjust="spacingAndGlyphs">2023-07-25</tspan> <tspan x="366.79" textLength="122.64" lengthAdjust="spacingAndGlyphs">06:00:00</tspan></text>
</g>
<path fill="none" stroke="#000" stroke-width="1" shape-rendering="crispEdges" d="M240.5 28.8L235.0 31.3L234.5 47.5L229.5 57.5L225.0 67.5L228.0 76.3L225.0 93.8L213.8 98.0L212.5 102.5L217.0 107.5L216.3 115.0L213.0 120.0L220.5 130.0L212.0 142.5L212.5 155.0L215.5 170.0L217.0 176.3L215.5 182.5L218.0 186.3L213.8 190.0L203.8 189.5L197.0 188.0L195.5 190.0L197.5 192.5L196.3 198.8L197.0 201.0L191.3 207.5L188.8 217.5L187.5 227.5L187.5 235.0L191.3 242.5L194.5 250.0L195.0 256.3L198.8 260.0L200.0 265.5L197.5 271.3L192.5 274.5L185.0 275.0L191.3 276.3L195.0 281.3L191.3 286.3L193.8 291.3L200.0 295.0L203.8 300.0L210.0 303.8L217.5 310.0L227.5 315.0L236.3 316.3L245.0 320.0L255.0 325.0L263.8 330.0L272.5 336.3L280.0 342.5L286.3 350.0L290.5 358.8L286.3 365.0L280.0 372.5L274.5 380.0L271.3 388.8L272.5 397.5L275.0 400.0L280.0 408.3L287.5 415.8L297.5 422.0L307.5 425.8L317.5 424.5L320.0 427.0L322.5 437.0L324.3 449.5L324.5 464.5L320.0 470.8L313.8 477.0L307.5 485.8L301.3 495.8L293.8 505.8L285.0 514.5L275.0 522.0L266.3 529.5L261.3 537.0L260.8 547.0L260.0 553.3L253.8 558.3L242.5 563.3L232.5 568.3L222.5 572.0L212.5 577.0L200.0 581.3L185.0 586.3L170.0 590.0L150.0 596.3L130.0 599.5L110.0 602.5L97.5 606.3L82.5 607.5L60.0 610.5L32.0 613.8L17.5 616.3L0.0 618.0M212.0 142.5L215.5 150.0L217.5 157.5L217.0 165.0L223.3 172.5L223.3 180.0L219.5 187.0L215.5 190.0L210.0 190.0L202.0 190.5L201.3 195.0L201.3 205.0L197.5 211.3L198.8 216.3L195.0 220.0L197.0 225.0L195.0 232.5L196.3 243.8L200.0 250.0L205.5 256.3L210.0 261.3L215.0 265.5L221.3 268.8L227.5 275.0L233.8 282.5L237.5 288.0L246.3 287.5L255.0 285.0L263.8 286.3L275.0 285.0L286.3 286.3L292.5 290.0L300.0 295.0L310.0 301.3L320.0 305.0L327.5 307.5L333.8 310.0L342.5 310.0L345.0 313.8L342.5 315.5L347.5 317.5L350.0 319.0L356.3 318.3L360.0 322.0L365.0 319.5L372.5 315.8L380.0 312.0L390.0 310.3L400.0 310.3L410.0 312.0L418.8 313.3L423.8 317.0L428.8 320.0L437.5 318.3L444.5 320.8L448.8 325.0L457.5 321.5L467.5 317.5L480.0 313.3L491.3 308.3L496.3 305.0L493.8 302.0L494.5 299.5L498.8 298.3L496.3 295.8L500.0 297.0L500.5 302.0L503.8 304.0L507.5 302.0L508.8 299.5L515.0 294.5L522.5 289.0L530.0 284.5L535.0 281.5L533.8 278.3L537.5 273.3L543.8 267.0L551.3 259.5L553.8 250.8L556.3 242.0L560.0 235.8L563.8 235.8L570.0 230.8L577.5 227.0L588.0 218.0L600.0 208.3L610.0 199.5L616.3 192.0L621.3 182.0L627.5 167.0L632.5 152.0L639.0 140.0L648.0 128.0L657.0 119.0L665.0 112.0L673.0 105.0L682.0 99.0L692.0 93.0L702.0 86.0L712.0 79.0L722.0 72.0L732.0 65.0L740.0 58.0L748.0 50.0L756.0 41.0L763.0 32.0L767.0 28.0M372.0 42.0L385.0 40.0L390.0 34.6L395.0 29.8L400.0 29.0L407.5 27.5L412.5 31.3L418.8 37.5L421.3 45.0L425.0 48.8L427.5 53.8L432.5 55.0L437.5 58.8L442.5 56.3L445.0 60.0L450.0 63.8L455.0 67.5L462.5 68.0L467.5 69.5L475.0 72.5L482.5 77.5L490.0 86.3L500.0 95.0L507.5 101.3L511.3 100.0L515.0 100.5L518.8 104.5L523.8 105.0L528.8 110.0L536.3 113.0L537.5 118.8L541.3 122.5L543.8 127.5L543.8 133.8L548.8 140.0L555.0 145.0L561.3 150.0L571.3 152.5L577.5 156.3L583.3 162.0L578.8 166.3L572.5 171.3L568.8 175.0L568.0 178.8L562.5 182.5L556.3 186.3L552.5 191.3L551.3 197.5L553.0 205.0L552.5 220.0L552.0 228.0L558.0 234.0L563.0 236.0M657.0 119.0L654.0 116.0L652.0 113.0L656.0 111.0L653.0 114.0L646.0 113.0L645.0 109.0L650.0 106.0L653.0 103.0L650.0 100.0L645.6 98.0L647.0 94.0L650.0 90.0L656.0 88.0L663.0 84.0L660.0 80.0L657.0 80.0L657.0 78.0L660.0 77.0L663.0 79.0L664.0 72.0L667.0 63.0L672.0 59.0L680.0 56.0L688.0 55.0L691.0 48.0L700.0 43.0L703.6 40.0L701.0 36.0L701.0 30.0L703.0 28.0M658.0 97.0L663.0 95.6L673.0 96.0L678.0 94.0L686.0 91.0L694.0 86.0L700.0 80.0L704.0 79.0L703.0 75.0L706.0 72.0L708.0 74.0L714.0 72.0L720.0 67.0L724.0 60.0L725.0 52.0L724.0 46.0L727.0 42.0L732.0 39.0L736.0 38.0L736.0 44.0L738.0 45.0L740.0 42.0L738.0 40.0L739.6 32.0L738.0 29.0L740.0 28.0"/>
<g fill="#868686" font-size="11px">
<text x="771" y="105.5" textLength="21.5" lengthAdjust="spacingAndGlyphs">32S</text><text x="771" y="178.3" textLength="21.5" lengthAdjust="spacingAndGlyphs">33S</text><text x="771" y="251.0" textLength="21.5" lengthAdjust="spacingAndGlyphs">34S</text><text x="771" y="323.7" textLength="21.5" lengthAdjust="spacingAndGlyphs">35S</text><text x="771" y="396.4" textLength="21.5" lengthAdjust="spacingAndGlyphs">36S</text><text x="771" y="469.2" textLength="21.5" lengthAdjust="spacingAndGlyphs">37S</text><text x="771" y="541.9" textLength="21.5" lengthAdjust="spacingAndGlyphs">38S</text><text x="771" y="614.6" textLength="21.5" lengthAdjust="spacingAndGlyphs">39S</text><text x="771" y="687.3" textLength="21.5" lengthAdjust="spacingAndGlyphs">40S</text><text x="771" y="760.1" textLength="21.5" lengthAdjust="spacingAndGlyphs">41S</text>
<text transform="translate(13.6,743.5) rotate(90)" x="0" y="0" textLength="21.5" lengthAdjust="spacingAndGlyphs">61W</text><text transform="translate(86.3,743.5) rotate(90)" x="0" y="0" textLength="21.5" lengthAdjust="spacingAndGlyphs">60W</text><text transform="translate(159.0,743.5) rotate(90)" x="0" y="0" textLength="21.5" lengthAdjust="spacingAndGlyphs">59W</text><text transform="translate(231.8,743.5) rotate(90)" x="0" y="0" textLength="21.5" lengthAdjust="spacingAndGlyphs">58W</text><text transform="translate(304.5,743.5) rotate(90)" x="0" y="0" textLength="21.5" lengthAdjust="spacingAndGlyphs">57W</text><text transform="translate(377.2,743.5) rotate(90)" x="0" y="0" textLength="21.5" lengthAdjust="spacingAndGlyphs">56W</text><text transform="translate(450.0,743.5) rotate(90)" x="0" y="0" textLength="21.5" lengthAdjust="spacingAndGlyphs">55W</text><text transform="translate(522.7,743.5) rotate(90)" x="0" y="0" textLength="21.5" lengthAdjust="spacingAndGlyphs">54W</text><text transform="translate(595.4,743.5) rotate(90)" x="0" y="0" textLength="21.5" lengthAdjust="spacingAndGlyphs">53W</text><text transform="translate(668.1,743.5) rotate(90)" x="0" y="0" textLength="21.5" lengthAdjust="spacingAndGlyphs">52W</text><text transform="translate(740.9,743.5) rotate(90)" x="0" y="0" textLength="21.5" lengthAdjust="spacingAndGlyphs">51W</text></g>
<rect x="32.5" y="160.5" width="48" height="608" fill="#fff" stroke="#000" stroke-width="1" shape-rendering="crispEdges"/>
<rect x="34" y="162" width="45" height="605" fill="url(#cb)"/>
<g fill="#000" font-size="15px">
<text x="33.5" y="147.5" textLength="44" lengthAdjust="spacingAndGlyphs">[m/s]</text><text x="86.5" y="165.5" textLength="17" lengthAdjust="spacingAndGlyphs">30</text><text x="86.5" y="317.5" textLength="17" lengthAdjust="spacingAndGlyphs">22</text><text x="86.5" y="469.5" textLength="17" lengthAdjust="spacingAndGlyphs">15</text><text x="86.5" y="621.5" textLength="8" lengthAdjust="spacingAndGlyphs">8</text><text x="86.5" y="773.5" textLength="8" lengthAdjust="spacingAndGlyphs">0</text></g>
</svg>
</body></html>
